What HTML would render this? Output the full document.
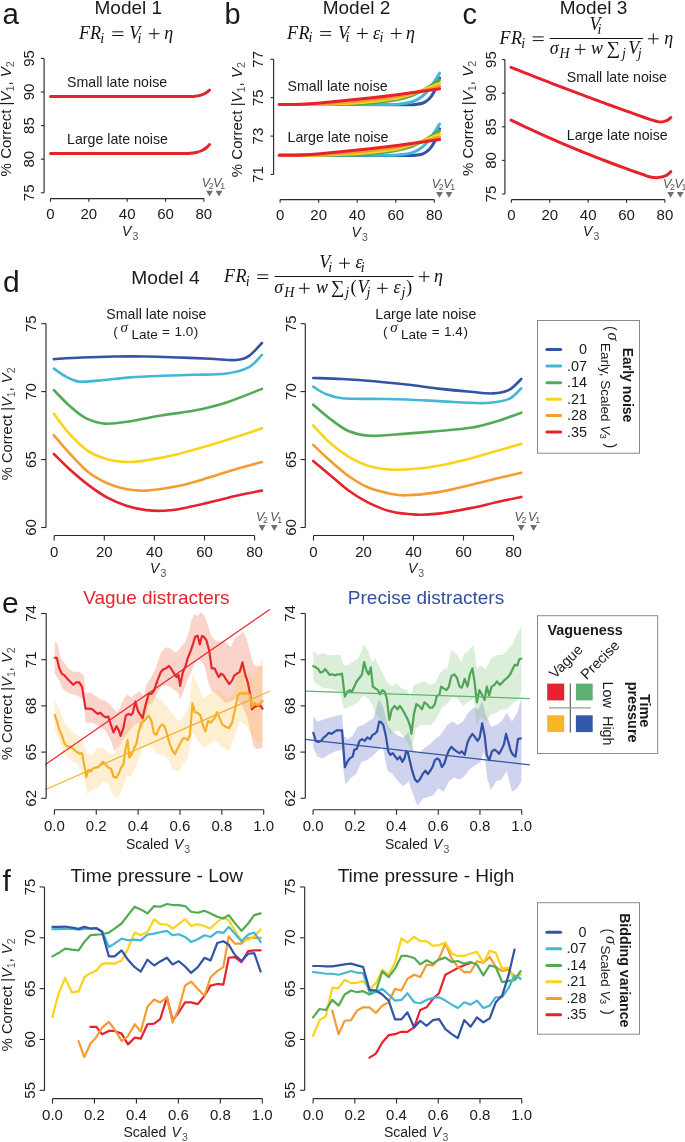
<!DOCTYPE html>
<html><head><meta charset="utf-8"><style>
html,body{margin:0;padding:0;background:#fff;overflow:hidden;}
svg{display:block;will-change:transform;}
</style></head><body>
<svg width="685" height="1142" viewBox="0 0 685 1142">
<rect width="685" height="1142" fill="#fff"/>
<text x="2.60" y="24.30" font-family="'Liberation Sans', sans-serif" font-size="29.5" text-anchor="start" fill="#1a1a1a" font-weight="normal" font-style="normal" >a</text>
<text x="128.30" y="13.70" font-family="'Liberation Sans', sans-serif" font-size="19" text-anchor="middle" fill="#1a1a1a" font-weight="normal" font-style="normal" >Model 1</text>
<line x1="44.10" y1="58.40" x2="44.10" y2="192.80" stroke="#2a2a2a" stroke-width="1.15" />
<line x1="40.90" y1="58.40" x2="44.10" y2="58.40" stroke="#2a2a2a" stroke-width="1.1" />
<text x="0.00" y="0.00" font-family="'Liberation Sans', sans-serif" font-size="15" text-anchor="middle" fill="#1a1a1a" font-weight="normal" font-style="normal" transform="translate(34.30,58.40) rotate(-90)" >95</text>
<line x1="40.90" y1="92.00" x2="44.10" y2="92.00" stroke="#2a2a2a" stroke-width="1.1" />
<text x="0.00" y="0.00" font-family="'Liberation Sans', sans-serif" font-size="15" text-anchor="middle" fill="#1a1a1a" font-weight="normal" font-style="normal" transform="translate(34.30,92.00) rotate(-90)" >90</text>
<line x1="40.90" y1="125.60" x2="44.10" y2="125.60" stroke="#2a2a2a" stroke-width="1.1" />
<text x="0.00" y="0.00" font-family="'Liberation Sans', sans-serif" font-size="15" text-anchor="middle" fill="#1a1a1a" font-weight="normal" font-style="normal" transform="translate(34.30,125.60) rotate(-90)" >85</text>
<line x1="40.90" y1="159.20" x2="44.10" y2="159.20" stroke="#2a2a2a" stroke-width="1.1" />
<text x="0.00" y="0.00" font-family="'Liberation Sans', sans-serif" font-size="15" text-anchor="middle" fill="#1a1a1a" font-weight="normal" font-style="normal" transform="translate(34.30,159.20) rotate(-90)" >80</text>
<line x1="40.90" y1="192.80" x2="44.10" y2="192.80" stroke="#2a2a2a" stroke-width="1.1" />
<text x="0.00" y="0.00" font-family="'Liberation Sans', sans-serif" font-size="15" text-anchor="middle" fill="#1a1a1a" font-weight="normal" font-style="normal" transform="translate(34.30,192.80) rotate(-90)" >75</text>
<line x1="50.50" y1="198.60" x2="203.86" y2="198.60" stroke="#2a2a2a" stroke-width="1.1" />
<line x1="50.50" y1="198.60" x2="50.50" y2="201.80" stroke="#2a2a2a" stroke-width="1.1" />
<text x="50.50" y="218.80" font-family="'Liberation Sans', sans-serif" font-size="15" text-anchor="middle" fill="#1a1a1a" font-weight="normal" font-style="normal" >0</text>
<line x1="88.84" y1="198.60" x2="88.84" y2="201.80" stroke="#2a2a2a" stroke-width="1.1" />
<text x="88.84" y="218.80" font-family="'Liberation Sans', sans-serif" font-size="15" text-anchor="middle" fill="#1a1a1a" font-weight="normal" font-style="normal" >20</text>
<line x1="127.18" y1="198.60" x2="127.18" y2="201.80" stroke="#2a2a2a" stroke-width="1.1" />
<text x="127.18" y="218.80" font-family="'Liberation Sans', sans-serif" font-size="15" text-anchor="middle" fill="#1a1a1a" font-weight="normal" font-style="normal" >40</text>
<line x1="165.52" y1="198.60" x2="165.52" y2="201.80" stroke="#2a2a2a" stroke-width="1.1" />
<text x="165.52" y="218.80" font-family="'Liberation Sans', sans-serif" font-size="15" text-anchor="middle" fill="#1a1a1a" font-weight="normal" font-style="normal" >60</text>
<line x1="203.86" y1="198.60" x2="203.86" y2="201.80" stroke="#2a2a2a" stroke-width="1.1" />
<text x="203.86" y="218.80" font-family="'Liberation Sans', sans-serif" font-size="15" text-anchor="middle" fill="#1a1a1a" font-weight="normal" font-style="normal" >80</text>
<text x="122.10" y="235.70" font-family="'Liberation Sans', sans-serif" font-size="14" font-style="italic" fill="#1a1a1a">V</text>
<text x="132.50" y="239.70" font-family="'Liberation Sans', sans-serif" font-size="10.5" fill="#555">3</text>
<path d="M206.10,190.70 L212.90,190.70 L209.50,196.50 Z" fill="#707070"/>
<text x="201.80" y="186.70" font-family="'Liberation Sans', sans-serif" font-size="12.5" fill="#555" font-style="italic">V<tspan font-style="normal" font-size="8.8" dx="-1.3" dy="1.9">2</tspan></text>
<path d="M215.60,190.70 L222.40,190.70 L219.00,196.50 Z" fill="#707070"/>
<text x="213.20" y="186.70" font-family="'Liberation Sans', sans-serif" font-size="12.5" fill="#555" font-style="italic">V<tspan font-style="normal" font-size="8.8" dx="-1.3" dy="1.9">1</tspan></text>
<text x="0.00" y="0.00" font-family="'Liberation Sans', sans-serif" font-size="15" text-anchor="middle" fill="#1a1a1a" font-weight="normal" font-style="normal" transform="translate(10.50,118.80) rotate(-90)" >% Correct |<tspan font-style="italic">V</tspan><tspan font-size="10.8" dy="3" fill="#555">1</tspan><tspan dy="-3">, </tspan><tspan font-style="italic">V</tspan><tspan font-size="10.8" dy="3" fill="#555">2</tspan></text>
<text x="67.00" y="86.50" font-family="'Liberation Sans', sans-serif" font-size="14.2" text-anchor="start" fill="#1a1a1a" font-weight="normal" font-style="normal" >Small late noise</text>
<text x="67.00" y="143.70" font-family="'Liberation Sans', sans-serif" font-size="14.2" text-anchor="start" fill="#1a1a1a" font-weight="normal" font-style="normal" >Large late noise</text>
<path d="M50.50,96.60 C62.08,96.60 97.58,96.60 120.00,96.60 C142.42,96.60 172.83,96.63 185.00,96.60 C197.17,96.57 190.67,96.57 193.00,96.40 C195.33,96.23 197.33,95.95 199.00,95.60 C200.67,95.25 201.75,94.82 203.00,94.30 C204.25,93.78 205.42,93.18 206.50,92.50 C207.58,91.82 209.00,90.58 209.50,90.20" stroke="#e6222d" stroke-width="3.0" fill="none" stroke-linecap="round" stroke-linejoin="round"/>
<path d="M50.50,153.60 C62.08,153.60 98.42,153.60 120.00,153.60 C141.58,153.60 168.33,153.65 180.00,153.60 C191.67,153.55 187.17,153.53 190.00,153.30 C192.83,153.07 195.00,152.67 197.00,152.20 C199.00,151.73 200.50,151.20 202.00,150.50 C203.50,149.80 204.75,148.98 206.00,148.00 C207.25,147.02 208.92,145.17 209.50,144.60" stroke="#e6222d" stroke-width="3.0" fill="none" stroke-linecap="round" stroke-linejoin="round"/>
<text x="224.50" y="24.30" font-family="'Liberation Sans', sans-serif" font-size="29" text-anchor="start" fill="#1a1a1a" font-weight="normal" font-style="normal" >b</text>
<text x="356.50" y="14.00" font-family="'Liberation Sans', sans-serif" font-size="19" text-anchor="middle" fill="#1a1a1a" font-weight="normal" font-style="normal" >Model 2</text>
<line x1="273.60" y1="59.30" x2="273.60" y2="174.50" stroke="#2a2a2a" stroke-width="1.15" />
<line x1="270.50" y1="59.30" x2="273.60" y2="59.30" stroke="#2a2a2a" stroke-width="1.1" />
<text x="0.00" y="0.00" font-family="'Liberation Sans', sans-serif" font-size="15" text-anchor="middle" fill="#1a1a1a" font-weight="normal" font-style="normal" transform="translate(263.00,59.30) rotate(-90)" >77</text>
<line x1="270.50" y1="97.70" x2="273.60" y2="97.70" stroke="#2a2a2a" stroke-width="1.1" />
<text x="0.00" y="0.00" font-family="'Liberation Sans', sans-serif" font-size="15" text-anchor="middle" fill="#1a1a1a" font-weight="normal" font-style="normal" transform="translate(263.00,97.70) rotate(-90)" >75</text>
<line x1="270.50" y1="136.10" x2="273.60" y2="136.10" stroke="#2a2a2a" stroke-width="1.1" />
<text x="0.00" y="0.00" font-family="'Liberation Sans', sans-serif" font-size="15" text-anchor="middle" fill="#1a1a1a" font-weight="normal" font-style="normal" transform="translate(263.00,136.10) rotate(-90)" >73</text>
<line x1="270.50" y1="174.50" x2="273.60" y2="174.50" stroke="#2a2a2a" stroke-width="1.1" />
<text x="0.00" y="0.00" font-family="'Liberation Sans', sans-serif" font-size="15" text-anchor="middle" fill="#1a1a1a" font-weight="normal" font-style="normal" transform="translate(263.00,174.50) rotate(-90)" >71</text>
<line x1="280.10" y1="199.60" x2="434.30" y2="199.60" stroke="#2a2a2a" stroke-width="1.1" />
<line x1="280.10" y1="199.60" x2="280.10" y2="202.80" stroke="#2a2a2a" stroke-width="1.1" />
<text x="280.10" y="219.80" font-family="'Liberation Sans', sans-serif" font-size="15" text-anchor="middle" fill="#1a1a1a" font-weight="normal" font-style="normal" >0</text>
<line x1="318.65" y1="199.60" x2="318.65" y2="202.80" stroke="#2a2a2a" stroke-width="1.1" />
<text x="318.65" y="219.80" font-family="'Liberation Sans', sans-serif" font-size="15" text-anchor="middle" fill="#1a1a1a" font-weight="normal" font-style="normal" >20</text>
<line x1="357.20" y1="199.60" x2="357.20" y2="202.80" stroke="#2a2a2a" stroke-width="1.1" />
<text x="357.20" y="219.80" font-family="'Liberation Sans', sans-serif" font-size="15" text-anchor="middle" fill="#1a1a1a" font-weight="normal" font-style="normal" >40</text>
<line x1="395.75" y1="199.60" x2="395.75" y2="202.80" stroke="#2a2a2a" stroke-width="1.1" />
<text x="395.75" y="219.80" font-family="'Liberation Sans', sans-serif" font-size="15" text-anchor="middle" fill="#1a1a1a" font-weight="normal" font-style="normal" >60</text>
<line x1="434.30" y1="199.60" x2="434.30" y2="202.80" stroke="#2a2a2a" stroke-width="1.1" />
<text x="434.30" y="219.80" font-family="'Liberation Sans', sans-serif" font-size="15" text-anchor="middle" fill="#1a1a1a" font-weight="normal" font-style="normal" >80</text>
<text x="351.60" y="236.50" font-family="'Liberation Sans', sans-serif" font-size="14" font-style="italic" fill="#1a1a1a">V</text>
<text x="362.00" y="240.50" font-family="'Liberation Sans', sans-serif" font-size="10.5" fill="#555">3</text>
<path d="M436.10,191.90 L442.90,191.90 L439.50,197.70 Z" fill="#707070"/>
<text x="431.80" y="187.90" font-family="'Liberation Sans', sans-serif" font-size="12.5" fill="#555" font-style="italic">V<tspan font-style="normal" font-size="8.8" dx="-1.3" dy="1.9">2</tspan></text>
<path d="M445.60,191.90 L452.40,191.90 L449.00,197.70 Z" fill="#707070"/>
<text x="443.20" y="187.90" font-family="'Liberation Sans', sans-serif" font-size="12.5" fill="#555" font-style="italic">V<tspan font-style="normal" font-size="8.8" dx="-1.3" dy="1.9">1</tspan></text>
<text x="0.00" y="0.00" font-family="'Liberation Sans', sans-serif" font-size="15" text-anchor="middle" fill="#1a1a1a" font-weight="normal" font-style="normal" transform="translate(241.80,119.60) rotate(-90)" >% Correct |<tspan font-style="italic">V</tspan><tspan font-size="10.8" dy="3" fill="#555">1</tspan><tspan dy="-3">, </tspan><tspan font-style="italic">V</tspan><tspan font-size="10.8" dy="3" fill="#555">2</tspan></text>
<text x="287.50" y="90.80" font-family="'Liberation Sans', sans-serif" font-size="14.2" text-anchor="start" fill="#1a1a1a" font-weight="normal" font-style="normal" >Small late noise</text>
<text x="287.50" y="142.10" font-family="'Liberation Sans', sans-serif" font-size="14.2" text-anchor="start" fill="#1a1a1a" font-weight="normal" font-style="normal" >Large late noise</text>
<path d="M279.30,104.50 C299.42,104.53 377.38,104.70 400.00,104.70 C422.62,104.70 411.17,104.78 415.00,104.50 C418.83,104.22 420.67,103.92 423.00,103.00 C425.33,102.08 427.17,100.83 429.00,99.00 C430.83,97.17 432.23,95.50 434.00,92.00 C435.77,88.50 438.67,80.33 439.60,78.00" stroke="#3353a4" stroke-width="3.0" fill="none" stroke-linecap="round" stroke-linejoin="round"/>
<path d="M279.30,104.50 C296.08,104.50 359.88,104.58 380.00,104.50 C400.12,104.42 394.50,104.50 400.00,104.00 C405.50,103.50 409.33,102.75 413.00,101.50 C416.67,100.25 419.17,98.75 422.00,96.50 C424.83,94.25 427.07,91.88 430.00,88.00 C432.93,84.12 438.00,75.67 439.60,73.20" stroke="#44b7d5" stroke-width="3.0" fill="none" stroke-linecap="round" stroke-linejoin="round"/>
<path d="M279.30,104.50 C289.42,104.48 325.72,104.58 340.00,104.40 C354.28,104.22 355.83,104.13 365.00,103.40 C374.17,102.67 387.17,101.32 395.00,100.00 C402.83,98.68 406.83,97.42 412.00,95.50 C417.17,93.58 421.40,91.12 426.00,88.50 C430.60,85.88 437.33,81.25 439.60,79.80" stroke="#52aa54" stroke-width="3.0" fill="none" stroke-linecap="round" stroke-linejoin="round"/>
<path d="M279.30,104.50 C286.08,104.48 309.05,104.57 320.00,104.40 C330.95,104.23 335.83,104.03 345.00,103.50 C354.17,102.97 365.83,102.20 375.00,101.20 C384.17,100.20 392.27,99.28 400.00,97.50 C407.73,95.72 414.80,92.87 421.40,90.50 C428.00,88.13 436.57,84.50 439.60,83.30" stroke="#fbd31a" stroke-width="3.0" fill="none" stroke-linecap="round" stroke-linejoin="round"/>
<path d="M279.30,104.50 C284.42,104.47 301.55,104.48 310.00,104.30 C318.45,104.12 321.67,103.95 330.00,103.40 C338.33,102.85 349.17,102.10 360.00,101.00 C370.83,99.90 384.77,98.47 395.00,96.80 C405.23,95.13 413.97,92.75 421.40,91.00 C428.83,89.25 436.57,87.08 439.60,86.30" stroke="#f49c32" stroke-width="3.0" fill="none" stroke-linecap="round" stroke-linejoin="round"/>
<path d="M279.30,104.50 C281.92,104.48 289.88,104.53 295.00,104.40 C300.12,104.27 305.00,104.02 310.00,103.70 C315.00,103.38 316.67,103.28 325.00,102.50 C333.33,101.72 348.33,100.25 360.00,99.00 C371.67,97.75 384.77,96.27 395.00,95.00 C405.23,93.73 413.97,92.43 421.40,91.40 C428.83,90.37 436.57,89.23 439.60,88.80" stroke="#e6222d" stroke-width="3.0" fill="none" stroke-linecap="round" stroke-linejoin="round"/>
<path d="M279.30,155.30 C299.42,155.33 377.38,155.50 400.00,155.50 C422.62,155.50 411.17,155.58 415.00,155.30 C418.83,155.02 420.67,154.72 423.00,153.80 C425.33,152.88 427.17,151.63 429.00,149.80 C430.83,147.97 432.23,146.30 434.00,142.80 C435.77,139.30 438.67,131.13 439.60,128.80" stroke="#3353a4" stroke-width="3.0" fill="none" stroke-linecap="round" stroke-linejoin="round"/>
<path d="M279.30,155.30 C296.08,155.30 359.88,155.38 380.00,155.30 C400.12,155.22 394.50,155.30 400.00,154.80 C405.50,154.30 409.33,153.55 413.00,152.30 C416.67,151.05 419.17,149.55 422.00,147.30 C424.83,145.05 427.07,142.68 430.00,138.80 C432.93,134.92 438.00,126.47 439.60,124.00" stroke="#44b7d5" stroke-width="3.0" fill="none" stroke-linecap="round" stroke-linejoin="round"/>
<path d="M279.30,155.30 C289.42,155.28 325.72,155.38 340.00,155.20 C354.28,155.02 355.83,154.93 365.00,154.20 C374.17,153.47 387.17,152.12 395.00,150.80 C402.83,149.48 406.83,148.22 412.00,146.30 C417.17,144.38 421.40,141.92 426.00,139.30 C430.60,136.68 437.33,132.05 439.60,130.60" stroke="#52aa54" stroke-width="3.0" fill="none" stroke-linecap="round" stroke-linejoin="round"/>
<path d="M279.30,155.30 C286.08,155.28 309.05,155.37 320.00,155.20 C330.95,155.03 335.83,154.83 345.00,154.30 C354.17,153.77 365.83,153.00 375.00,152.00 C384.17,151.00 392.27,150.08 400.00,148.30 C407.73,146.52 414.80,143.67 421.40,141.30 C428.00,138.93 436.57,135.30 439.60,134.10" stroke="#fbd31a" stroke-width="3.0" fill="none" stroke-linecap="round" stroke-linejoin="round"/>
<path d="M279.30,155.30 C284.42,155.27 301.55,155.28 310.00,155.10 C318.45,154.92 321.67,154.75 330.00,154.20 C338.33,153.65 349.17,152.90 360.00,151.80 C370.83,150.70 384.77,149.27 395.00,147.60 C405.23,145.93 413.97,143.55 421.40,141.80 C428.83,140.05 436.57,137.88 439.60,137.10" stroke="#f49c32" stroke-width="3.0" fill="none" stroke-linecap="round" stroke-linejoin="round"/>
<path d="M279.30,155.30 C281.92,155.28 289.88,155.33 295.00,155.20 C300.12,155.07 305.00,154.82 310.00,154.50 C315.00,154.18 316.67,154.08 325.00,153.30 C333.33,152.52 348.33,151.05 360.00,149.80 C371.67,148.55 384.77,147.07 395.00,145.80 C405.23,144.53 413.97,143.23 421.40,142.20 C428.83,141.17 436.57,140.03 439.60,139.60" stroke="#e6222d" stroke-width="3.0" fill="none" stroke-linecap="round" stroke-linejoin="round"/>
<text x="462.50" y="23.50" font-family="'Liberation Sans', sans-serif" font-size="29" text-anchor="start" fill="#1a1a1a" font-weight="normal" font-style="normal" >c</text>
<text x="593.50" y="13.70" font-family="'Liberation Sans', sans-serif" font-size="19" text-anchor="middle" fill="#1a1a1a" font-weight="normal" font-style="normal" >Model 3</text>
<line x1="504.90" y1="59.60" x2="504.90" y2="194.00" stroke="#2a2a2a" stroke-width="1.15" />
<line x1="502.00" y1="59.60" x2="504.90" y2="59.60" stroke="#2a2a2a" stroke-width="1.1" />
<text x="0.00" y="0.00" font-family="'Liberation Sans', sans-serif" font-size="15" text-anchor="middle" fill="#1a1a1a" font-weight="normal" font-style="normal" transform="translate(496.20,59.60) rotate(-90)" >95</text>
<line x1="502.00" y1="93.20" x2="504.90" y2="93.20" stroke="#2a2a2a" stroke-width="1.1" />
<text x="0.00" y="0.00" font-family="'Liberation Sans', sans-serif" font-size="15" text-anchor="middle" fill="#1a1a1a" font-weight="normal" font-style="normal" transform="translate(496.20,93.20) rotate(-90)" >90</text>
<line x1="502.00" y1="126.80" x2="504.90" y2="126.80" stroke="#2a2a2a" stroke-width="1.1" />
<text x="0.00" y="0.00" font-family="'Liberation Sans', sans-serif" font-size="15" text-anchor="middle" fill="#1a1a1a" font-weight="normal" font-style="normal" transform="translate(496.20,126.80) rotate(-90)" >85</text>
<line x1="502.00" y1="160.40" x2="504.90" y2="160.40" stroke="#2a2a2a" stroke-width="1.1" />
<text x="0.00" y="0.00" font-family="'Liberation Sans', sans-serif" font-size="15" text-anchor="middle" fill="#1a1a1a" font-weight="normal" font-style="normal" transform="translate(496.20,160.40) rotate(-90)" >80</text>
<line x1="502.00" y1="194.00" x2="504.90" y2="194.00" stroke="#2a2a2a" stroke-width="1.1" />
<text x="0.00" y="0.00" font-family="'Liberation Sans', sans-serif" font-size="15" text-anchor="middle" fill="#1a1a1a" font-weight="normal" font-style="normal" transform="translate(496.20,194.00) rotate(-90)" >75</text>
<line x1="511.40" y1="199.60" x2="664.92" y2="199.60" stroke="#2a2a2a" stroke-width="1.1" />
<line x1="511.40" y1="199.60" x2="511.40" y2="202.80" stroke="#2a2a2a" stroke-width="1.1" />
<text x="511.40" y="220.00" font-family="'Liberation Sans', sans-serif" font-size="15" text-anchor="middle" fill="#1a1a1a" font-weight="normal" font-style="normal" >0</text>
<line x1="549.78" y1="199.60" x2="549.78" y2="202.80" stroke="#2a2a2a" stroke-width="1.1" />
<text x="549.78" y="220.00" font-family="'Liberation Sans', sans-serif" font-size="15" text-anchor="middle" fill="#1a1a1a" font-weight="normal" font-style="normal" >20</text>
<line x1="588.16" y1="199.60" x2="588.16" y2="202.80" stroke="#2a2a2a" stroke-width="1.1" />
<text x="588.16" y="220.00" font-family="'Liberation Sans', sans-serif" font-size="15" text-anchor="middle" fill="#1a1a1a" font-weight="normal" font-style="normal" >40</text>
<line x1="626.54" y1="199.60" x2="626.54" y2="202.80" stroke="#2a2a2a" stroke-width="1.1" />
<text x="626.54" y="220.00" font-family="'Liberation Sans', sans-serif" font-size="15" text-anchor="middle" fill="#1a1a1a" font-weight="normal" font-style="normal" >60</text>
<line x1="664.92" y1="199.60" x2="664.92" y2="202.80" stroke="#2a2a2a" stroke-width="1.1" />
<text x="664.92" y="220.00" font-family="'Liberation Sans', sans-serif" font-size="15" text-anchor="middle" fill="#1a1a1a" font-weight="normal" font-style="normal" >80</text>
<text x="583.00" y="235.70" font-family="'Liberation Sans', sans-serif" font-size="14" font-style="italic" fill="#1a1a1a">V</text>
<text x="593.40" y="239.70" font-family="'Liberation Sans', sans-serif" font-size="10.5" fill="#555">3</text>
<path d="M667.20,192.00 L674.00,192.00 L670.60,197.80 Z" fill="#707070"/>
<text x="662.90" y="188.00" font-family="'Liberation Sans', sans-serif" font-size="12.5" fill="#555" font-style="italic">V<tspan font-style="normal" font-size="8.8" dx="-1.3" dy="1.9">2</tspan></text>
<path d="M676.80,192.00 L683.60,192.00 L680.20,197.80 Z" fill="#707070"/>
<text x="674.40" y="188.00" font-family="'Liberation Sans', sans-serif" font-size="12.5" fill="#555" font-style="italic">V<tspan font-style="normal" font-size="8.8" dx="-1.3" dy="1.9">1</tspan></text>
<text x="0.00" y="0.00" font-family="'Liberation Sans', sans-serif" font-size="15" text-anchor="middle" fill="#1a1a1a" font-weight="normal" font-style="normal" transform="translate(472.50,118.40) rotate(-90)" >% Correct |<tspan font-style="italic">V</tspan><tspan font-size="10.8" dy="3" fill="#555">1</tspan><tspan dy="-3">, </tspan><tspan font-style="italic">V</tspan><tspan font-size="10.8" dy="3" fill="#555">2</tspan></text>
<text x="566.80" y="82.40" font-family="'Liberation Sans', sans-serif" font-size="14.2" text-anchor="start" fill="#1a1a1a" font-weight="normal" font-style="normal" >Small late noise</text>
<text x="566.80" y="140.00" font-family="'Liberation Sans', sans-serif" font-size="14.2" text-anchor="start" fill="#1a1a1a" font-weight="normal" font-style="normal" >Large late noise</text>
<path d="M511.00,67.30 C512.00,67.70 515.00,68.90 517.00,69.69 C519.00,70.49 521.00,71.28 523.00,72.07 C525.00,72.86 527.00,73.65 529.00,74.44 C531.00,75.23 533.00,76.01 535.00,76.80 C537.00,77.58 539.00,78.36 541.00,79.14 C543.00,79.92 545.00,80.69 547.00,81.47 C549.00,82.24 551.00,83.01 553.00,83.78 C555.00,84.55 557.00,85.32 559.00,86.09 C561.00,86.85 563.00,87.62 565.00,88.38 C567.00,89.14 569.00,89.90 571.00,90.65 C573.00,91.41 575.00,92.17 577.00,92.92 C579.00,93.67 581.00,94.42 583.00,95.17 C585.00,95.92 587.00,96.66 589.00,97.41 C591.00,98.15 593.00,98.89 595.00,99.63 C597.00,100.37 599.00,101.11 601.00,101.85 C603.00,102.58 605.00,103.31 607.00,104.04 C609.00,104.78 611.00,105.50 613.00,106.23 C615.00,106.96 617.00,107.68 619.00,108.40 C621.00,109.13 623.00,109.85 625.00,110.57 C627.00,111.28 629.00,112.00 631.00,112.71 C633.00,113.43 635.00,114.14 637.00,114.85 C639.00,115.56 641.00,116.26 643.00,116.97 C645.00,117.67 646.92,118.41 649.00,119.08 C651.08,119.75 653.55,120.50 655.50,121.00 C657.45,121.50 658.85,122.15 660.70,122.10 C662.55,122.05 664.90,121.45 666.60,120.70 C668.30,119.95 670.18,118.12 670.90,117.60" stroke="#e6222d" stroke-width="3.0" fill="none" stroke-linecap="round"/>
<path d="M511.00,120.10 C512.00,120.58 515.00,122.02 517.00,122.97 C519.00,123.92 521.00,124.87 523.00,125.80 C525.00,126.74 527.00,127.67 529.00,128.60 C531.00,129.52 533.00,130.44 535.00,131.36 C537.00,132.27 539.00,133.18 541.00,134.08 C543.00,134.98 545.00,135.87 547.00,136.76 C549.00,137.65 551.00,138.53 553.00,139.40 C555.00,140.28 557.00,141.15 559.00,142.01 C561.00,142.87 563.00,143.73 565.00,144.58 C567.00,145.43 569.00,146.27 571.00,147.11 C573.00,147.95 575.00,148.78 577.00,149.60 C579.00,150.43 581.00,151.24 583.00,152.06 C585.00,152.87 587.00,153.68 589.00,154.48 C591.00,155.28 593.00,156.07 595.00,156.86 C597.00,157.64 599.00,158.42 601.00,159.20 C603.00,159.97 605.00,160.74 607.00,161.50 C609.00,162.27 611.00,163.02 613.00,163.77 C615.00,164.52 617.00,165.26 619.00,166.00 C621.00,166.74 623.00,167.47 625.00,168.19 C627.00,168.92 629.00,169.64 631.00,170.35 C633.00,171.06 635.00,171.76 637.00,172.46 C639.00,173.16 640.80,173.79 643.00,174.54 C645.20,175.30 647.68,176.49 650.20,177.00 C652.72,177.51 655.47,177.82 658.10,177.60 C660.73,177.38 663.87,176.68 666.00,175.70 C668.13,174.72 670.08,172.37 670.90,171.70" stroke="#e6222d" stroke-width="3.0" fill="none" stroke-linecap="round"/>
<text x="79.10" y="38.70" font-family="'Liberation Serif', serif" font-size="18.0" font-style="italic" fill="#111">F</text>
<text x="90.00" y="38.70" font-family="'Liberation Serif', serif" font-size="18.0" font-style="italic" fill="#111">R</text>
<text x="100.32" y="42.60" font-family="'Liberation Serif', serif" font-size="14.0" font-style="italic" fill="#111">i</text>
<path d="M112.30,31.80 h11.0 M112.30,35.50 h11.0" stroke="#111" stroke-width="1.0" fill="none"/>
<text x="129.26" y="38.70" font-family="'Liberation Serif', serif" font-size="18.0" font-style="italic" fill="#111">V</text>
<text x="137.52" y="42.60" font-family="'Liberation Serif', serif" font-size="14.0" font-style="italic" fill="#111">i</text>
<path d="M148.70,33.70 h10.8 M154.10,28.40 v10.6" stroke="#111" stroke-width="1.0" fill="none"/>
<text x="164.16" y="38.70" font-family="'Liberation Serif', serif" font-size="18.0" font-style="italic" fill="#111">η</text>
<text x="287.00" y="38.50" font-family="'Liberation Serif', serif" font-size="18.0" font-style="italic" fill="#111">F</text>
<text x="298.40" y="38.50" font-family="'Liberation Serif', serif" font-size="18.0" font-style="italic" fill="#111">R</text>
<text x="308.52" y="42.40" font-family="'Liberation Serif', serif" font-size="14.0" font-style="italic" fill="#111">i</text>
<path d="M320.20,31.60 h11.0 M320.20,35.30 h11.0" stroke="#111" stroke-width="1.0" fill="none"/>
<text x="338.06" y="38.50" font-family="'Liberation Serif', serif" font-size="18.0" font-style="italic" fill="#111">V</text>
<text x="345.62" y="42.40" font-family="'Liberation Serif', serif" font-size="14.0" font-style="italic" fill="#111">i</text>
<path d="M356.90,33.50 h10.8 M362.30,28.20 v10.6" stroke="#111" stroke-width="1.0" fill="none"/>
<text x="372.91" y="38.50" font-family="'Liberation Serif', serif" font-size="18.0" font-style="italic" fill="#111">ε</text>
<text x="379.52" y="42.40" font-family="'Liberation Serif', serif" font-size="14.0" font-style="italic" fill="#111">i</text>
<path d="M390.80,33.50 h10.8 M396.20,28.20 v10.6" stroke="#111" stroke-width="1.0" fill="none"/>
<text x="405.96" y="38.50" font-family="'Liberation Serif', serif" font-size="18.0" font-style="italic" fill="#111">η</text>
<text x="499.50" y="43.80" font-family="'Liberation Serif', serif" font-size="18.0" font-style="italic" fill="#111">F</text>
<text x="510.90" y="43.80" font-family="'Liberation Serif', serif" font-size="18.0" font-style="italic" fill="#111">R</text>
<text x="521.32" y="47.70" font-family="'Liberation Serif', serif" font-size="14.0" font-style="italic" fill="#111">i</text>
<path d="M532.70,36.90 h11.0 M532.70,40.60 h11.0" stroke="#111" stroke-width="1.0" fill="none"/>
<path d="M647.90,38.80 h10.8 M653.30,33.50 v10.6" stroke="#111" stroke-width="1.0" fill="none"/>
<text x="664.16" y="43.80" font-family="'Liberation Serif', serif" font-size="18.0" font-style="italic" fill="#111">η</text>
<text x="589.56" y="30.20" font-family="'Liberation Serif', serif" font-size="18.0" font-style="italic" fill="#111">V</text>
<text x="597.62" y="34.10" font-family="'Liberation Serif', serif" font-size="14.0" font-style="italic" fill="#111">i</text>
<line x1="549.80" y1="38.50" x2="643.20" y2="38.50" stroke="#111" stroke-width="1.1" />
<text x="549.76" y="54.40" font-family="'Liberation Serif', serif" font-size="18.0" font-style="italic" fill="#111">σ</text>
<text x="559.55" y="58.30" font-family="'Liberation Serif', serif" font-size="14.0" font-style="italic" fill="#111">H</text>
<path d="M574.80,49.40 h10.8 M580.20,44.10 v10.6" stroke="#111" stroke-width="1.0" fill="none"/>
<text x="590.97" y="54.40" font-family="'Liberation Serif', serif" font-size="18.0" font-style="italic" fill="#111">w</text>
<text x="606.76" y="54.40" font-family="'Liberation Serif', serif" font-size="18.8" font-style="normal" fill="#111">∑</text>
<text x="621.90" y="58.30" font-family="'Liberation Serif', serif" font-size="14.0" font-style="italic" fill="#111">j</text>
<text x="628.26" y="54.40" font-family="'Liberation Serif', serif" font-size="18.0" font-style="italic" fill="#111">V</text>
<text x="637.70" y="58.30" font-family="'Liberation Serif', serif" font-size="14.0" font-style="italic" fill="#111">j</text>
<text x="224.10" y="281.70" font-family="'Liberation Serif', serif" font-size="18.0" font-style="italic" fill="#111">F</text>
<text x="235.40" y="281.70" font-family="'Liberation Serif', serif" font-size="18.0" font-style="italic" fill="#111">R</text>
<text x="245.72" y="285.60" font-family="'Liberation Serif', serif" font-size="14.0" font-style="italic" fill="#111">i</text>
<path d="M257.30,274.80 h11.0 M257.30,278.50 h11.0" stroke="#111" stroke-width="1.0" fill="none"/>
<path d="M418.70,276.70 h10.8 M424.10,271.40 v10.6" stroke="#111" stroke-width="1.0" fill="none"/>
<text x="434.06" y="281.70" font-family="'Liberation Serif', serif" font-size="18.0" font-style="italic" fill="#111">η</text>
<text x="319.36" y="268.20" font-family="'Liberation Serif', serif" font-size="18.0" font-style="italic" fill="#111">V</text>
<text x="328.32" y="272.10" font-family="'Liberation Serif', serif" font-size="14.0" font-style="italic" fill="#111">i</text>
<path d="M339.10,263.20 h10.8 M344.50,257.90 v10.6" stroke="#111" stroke-width="1.0" fill="none"/>
<text x="355.41" y="268.20" font-family="'Liberation Serif', serif" font-size="18.0" font-style="italic" fill="#111">ε</text>
<text x="360.72" y="272.10" font-family="'Liberation Serif', serif" font-size="14.0" font-style="italic" fill="#111">i</text>
<line x1="274.60" y1="276.50" x2="413.60" y2="276.50" stroke="#111" stroke-width="1.1" />
<text x="274.26" y="293.30" font-family="'Liberation Serif', serif" font-size="18.0" font-style="italic" fill="#111">σ</text>
<text x="284.15" y="297.20" font-family="'Liberation Serif', serif" font-size="14.0" font-style="italic" fill="#111">H</text>
<path d="M298.90,288.30 h10.8 M304.30,283.00 v10.6" stroke="#111" stroke-width="1.0" fill="none"/>
<text x="315.97" y="293.30" font-family="'Liberation Serif', serif" font-size="18.0" font-style="italic" fill="#111">w</text>
<text x="331.06" y="293.30" font-family="'Liberation Serif', serif" font-size="18.8" font-style="normal" fill="#111">∑</text>
<text x="345.20" y="297.20" font-family="'Liberation Serif', serif" font-size="14.0" font-style="italic" fill="#111">j</text>
<text x="350.39" y="293.30" font-family="'Liberation Serif', serif" font-size="18.5" font-style="normal" fill="#111">(</text>
<text x="357.56" y="293.30" font-family="'Liberation Serif', serif" font-size="18.0" font-style="italic" fill="#111">V</text>
<text x="366.50" y="297.20" font-family="'Liberation Serif', serif" font-size="14.0" font-style="italic" fill="#111">j</text>
<path d="M376.90,288.30 h10.8 M382.30,283.00 v10.6" stroke="#111" stroke-width="1.0" fill="none"/>
<text x="393.61" y="293.30" font-family="'Liberation Serif', serif" font-size="18.0" font-style="italic" fill="#111">ε</text>
<text x="401.60" y="297.20" font-family="'Liberation Serif', serif" font-size="14.0" font-style="italic" fill="#111">j</text>
<text x="406.10" y="293.30" font-family="'Liberation Serif', serif" font-size="18.5" font-style="normal" fill="#111">)</text>
<text x="3.00" y="292.00" font-family="'Liberation Sans', sans-serif" font-size="30" text-anchor="start" fill="#1a1a1a" font-weight="normal" font-style="normal" >d</text>
<text x="131.30" y="284.00" font-family="'Liberation Sans', sans-serif" font-size="19.2" text-anchor="start" fill="#1a1a1a" font-weight="normal" font-style="normal" >Model 4</text>
<line x1="46.00" y1="323.65" x2="46.00" y2="527.50" stroke="#2a2a2a" stroke-width="1.15" />
<line x1="41.20" y1="323.65" x2="46.00" y2="323.65" stroke="#2a2a2a" stroke-width="1.1" />
<text x="0.00" y="0.00" font-family="'Liberation Sans', sans-serif" font-size="15" text-anchor="middle" fill="#1a1a1a" font-weight="normal" font-style="normal" transform="translate(36.00,323.65) rotate(-90)" >75</text>
<line x1="41.20" y1="391.60" x2="46.00" y2="391.60" stroke="#2a2a2a" stroke-width="1.1" />
<text x="0.00" y="0.00" font-family="'Liberation Sans', sans-serif" font-size="15" text-anchor="middle" fill="#1a1a1a" font-weight="normal" font-style="normal" transform="translate(36.00,391.60) rotate(-90)" >70</text>
<line x1="41.20" y1="459.55" x2="46.00" y2="459.55" stroke="#2a2a2a" stroke-width="1.1" />
<text x="0.00" y="0.00" font-family="'Liberation Sans', sans-serif" font-size="15" text-anchor="middle" fill="#1a1a1a" font-weight="normal" font-style="normal" transform="translate(36.00,459.55) rotate(-90)" >65</text>
<line x1="41.20" y1="527.50" x2="46.00" y2="527.50" stroke="#2a2a2a" stroke-width="1.1" />
<text x="0.00" y="0.00" font-family="'Liberation Sans', sans-serif" font-size="15" text-anchor="middle" fill="#1a1a1a" font-weight="normal" font-style="normal" transform="translate(36.00,527.50) rotate(-90)" >60</text>
<line x1="54.20" y1="535.50" x2="254.60" y2="535.50" stroke="#2a2a2a" stroke-width="1.1" />
<line x1="54.20" y1="535.50" x2="54.20" y2="540.50" stroke="#2a2a2a" stroke-width="1.1" />
<text x="54.20" y="556.50" font-family="'Liberation Sans', sans-serif" font-size="15" text-anchor="middle" fill="#1a1a1a" font-weight="normal" font-style="normal" >0</text>
<line x1="104.30" y1="535.50" x2="104.30" y2="540.50" stroke="#2a2a2a" stroke-width="1.1" />
<text x="104.30" y="556.50" font-family="'Liberation Sans', sans-serif" font-size="15" text-anchor="middle" fill="#1a1a1a" font-weight="normal" font-style="normal" >20</text>
<line x1="154.40" y1="535.50" x2="154.40" y2="540.50" stroke="#2a2a2a" stroke-width="1.1" />
<text x="154.40" y="556.50" font-family="'Liberation Sans', sans-serif" font-size="15" text-anchor="middle" fill="#1a1a1a" font-weight="normal" font-style="normal" >40</text>
<line x1="204.50" y1="535.50" x2="204.50" y2="540.50" stroke="#2a2a2a" stroke-width="1.1" />
<text x="204.50" y="556.50" font-family="'Liberation Sans', sans-serif" font-size="15" text-anchor="middle" fill="#1a1a1a" font-weight="normal" font-style="normal" >60</text>
<line x1="254.60" y1="535.50" x2="254.60" y2="540.50" stroke="#2a2a2a" stroke-width="1.1" />
<text x="254.60" y="556.50" font-family="'Liberation Sans', sans-serif" font-size="15" text-anchor="middle" fill="#1a1a1a" font-weight="normal" font-style="normal" >80</text>
<text x="150.10" y="572.50" font-family="'Liberation Sans', sans-serif" font-size="14" font-style="italic" fill="#1a1a1a">V</text>
<text x="160.50" y="576.50" font-family="'Liberation Sans', sans-serif" font-size="10.5" fill="#555">3</text>
<path d="M258.70,525.10 L265.50,525.10 L262.10,530.90 Z" fill="#707070"/>
<text x="255.90" y="521.10" font-family="'Liberation Sans', sans-serif" font-size="12.5" fill="#555" font-style="italic">V<tspan font-style="normal" font-size="8.8" dx="-1.3" dy="1.9">2</tspan></text>
<path d="M270.90,525.10 L277.70,525.10 L274.30,530.90 Z" fill="#707070"/>
<text x="270.20" y="521.10" font-family="'Liberation Sans', sans-serif" font-size="12.5" fill="#555" font-style="italic">V<tspan font-style="normal" font-size="8.8" dx="-1.3" dy="1.9">1</tspan></text>
<text x="0.00" y="0.00" font-family="'Liberation Sans', sans-serif" font-size="14.7" text-anchor="middle" fill="#1a1a1a" font-weight="normal" font-style="normal" transform="translate(12.00,423.80) rotate(-90)" >% Correct |<tspan font-style="italic">V</tspan><tspan font-size="10.6" dy="3" fill="#555">1</tspan><tspan dy="-3">, </tspan><tspan font-style="italic">V</tspan><tspan font-size="10.6" dy="3" fill="#555">2</tspan></text>
<line x1="305.30" y1="323.65" x2="305.30" y2="527.50" stroke="#2a2a2a" stroke-width="1.15" />
<line x1="300.50" y1="323.65" x2="305.30" y2="323.65" stroke="#2a2a2a" stroke-width="1.1" />
<text x="0.00" y="0.00" font-family="'Liberation Sans', sans-serif" font-size="15" text-anchor="middle" fill="#1a1a1a" font-weight="normal" font-style="normal" transform="translate(295.50,323.65) rotate(-90)" >75</text>
<line x1="300.50" y1="391.60" x2="305.30" y2="391.60" stroke="#2a2a2a" stroke-width="1.1" />
<text x="0.00" y="0.00" font-family="'Liberation Sans', sans-serif" font-size="15" text-anchor="middle" fill="#1a1a1a" font-weight="normal" font-style="normal" transform="translate(295.50,391.60) rotate(-90)" >70</text>
<line x1="300.50" y1="459.55" x2="305.30" y2="459.55" stroke="#2a2a2a" stroke-width="1.1" />
<text x="0.00" y="0.00" font-family="'Liberation Sans', sans-serif" font-size="15" text-anchor="middle" fill="#1a1a1a" font-weight="normal" font-style="normal" transform="translate(295.50,459.55) rotate(-90)" >65</text>
<line x1="300.50" y1="527.50" x2="305.30" y2="527.50" stroke="#2a2a2a" stroke-width="1.1" />
<text x="0.00" y="0.00" font-family="'Liberation Sans', sans-serif" font-size="15" text-anchor="middle" fill="#1a1a1a" font-weight="normal" font-style="normal" transform="translate(295.50,527.50) rotate(-90)" >60</text>
<line x1="313.50" y1="535.50" x2="513.50" y2="535.50" stroke="#2a2a2a" stroke-width="1.1" />
<line x1="313.50" y1="535.50" x2="313.50" y2="540.50" stroke="#2a2a2a" stroke-width="1.1" />
<text x="313.50" y="556.60" font-family="'Liberation Sans', sans-serif" font-size="15" text-anchor="middle" fill="#1a1a1a" font-weight="normal" font-style="normal" >0</text>
<line x1="363.50" y1="535.50" x2="363.50" y2="540.50" stroke="#2a2a2a" stroke-width="1.1" />
<text x="363.50" y="556.60" font-family="'Liberation Sans', sans-serif" font-size="15" text-anchor="middle" fill="#1a1a1a" font-weight="normal" font-style="normal" >20</text>
<line x1="413.50" y1="535.50" x2="413.50" y2="540.50" stroke="#2a2a2a" stroke-width="1.1" />
<text x="413.50" y="556.60" font-family="'Liberation Sans', sans-serif" font-size="15" text-anchor="middle" fill="#1a1a1a" font-weight="normal" font-style="normal" >40</text>
<line x1="463.50" y1="535.50" x2="463.50" y2="540.50" stroke="#2a2a2a" stroke-width="1.1" />
<text x="463.50" y="556.60" font-family="'Liberation Sans', sans-serif" font-size="15" text-anchor="middle" fill="#1a1a1a" font-weight="normal" font-style="normal" >60</text>
<line x1="513.50" y1="535.50" x2="513.50" y2="540.50" stroke="#2a2a2a" stroke-width="1.1" />
<text x="513.50" y="556.60" font-family="'Liberation Sans', sans-serif" font-size="15" text-anchor="middle" fill="#1a1a1a" font-weight="normal" font-style="normal" >80</text>
<text x="407.90" y="572.50" font-family="'Liberation Sans', sans-serif" font-size="14" font-style="italic" fill="#1a1a1a">V</text>
<text x="418.30" y="576.50" font-family="'Liberation Sans', sans-serif" font-size="10.5" fill="#555">3</text>
<path d="M517.80,525.10 L524.60,525.10 L521.20,530.90 Z" fill="#707070"/>
<text x="514.40" y="521.10" font-family="'Liberation Sans', sans-serif" font-size="12.5" fill="#555" font-style="italic">V<tspan font-style="normal" font-size="8.8" dx="-1.3" dy="1.9">2</tspan></text>
<path d="M530.20,525.10 L537.00,525.10 L533.60,530.90 Z" fill="#707070"/>
<text x="528.10" y="521.10" font-family="'Liberation Sans', sans-serif" font-size="12.5" fill="#555" font-style="italic">V<tspan font-style="normal" font-size="8.8" dx="-1.3" dy="1.9">1</tspan></text>
<text x="156.40" y="318.60" font-family="'Liberation Sans', sans-serif" font-size="14.2" text-anchor="middle" fill="#1a1a1a" font-weight="normal" font-style="normal" >Small late noise</text>
<text x="113.20" y="336.00" font-family="'Liberation Sans', sans-serif" font-size="13.5" text-anchor="start" fill="#1a1a1a" font-weight="normal" font-style="normal" >(</text>
<text x="120.60" y="331.80" font-family="'Liberation Serif', serif" font-size="15" font-style="italic" fill="#1a1a1a">σ</text>
<text x="131.40" y="339.40" font-family="'Liberation Sans', sans-serif" font-size="13.5" text-anchor="start" fill="#1a1a1a" font-weight="normal" font-style="normal" >Late</text>
<text x="162.00" y="336.00" font-family="'Liberation Sans', sans-serif" font-size="13.5" text-anchor="start" fill="#1a1a1a" font-weight="normal" font-style="normal" >=</text>
<text x="174.40" y="336.00" font-family="'Liberation Sans', sans-serif" font-size="13.5" text-anchor="start" fill="#1a1a1a" font-weight="normal" font-style="normal" >1.0</text>
<text x="193.70" y="336.00" font-family="'Liberation Sans', sans-serif" font-size="13.5" text-anchor="start" fill="#1a1a1a" font-weight="normal" font-style="normal" >)</text>
<text x="425.80" y="318.80" font-family="'Liberation Sans', sans-serif" font-size="14.2" text-anchor="middle" fill="#1a1a1a" font-weight="normal" font-style="normal" >Large late noise</text>
<text x="382.90" y="336.00" font-family="'Liberation Sans', sans-serif" font-size="13.5" text-anchor="start" fill="#1a1a1a" font-weight="normal" font-style="normal" >(</text>
<text x="390.30" y="331.80" font-family="'Liberation Serif', serif" font-size="15" font-style="italic" fill="#1a1a1a">σ</text>
<text x="401.10" y="339.40" font-family="'Liberation Sans', sans-serif" font-size="13.5" text-anchor="start" fill="#1a1a1a" font-weight="normal" font-style="normal" >Late</text>
<text x="431.70" y="336.00" font-family="'Liberation Sans', sans-serif" font-size="13.5" text-anchor="start" fill="#1a1a1a" font-weight="normal" font-style="normal" >=</text>
<text x="444.10" y="336.00" font-family="'Liberation Sans', sans-serif" font-size="13.5" text-anchor="start" fill="#1a1a1a" font-weight="normal" font-style="normal" >1.4</text>
<text x="463.40" y="336.00" font-family="'Liberation Sans', sans-serif" font-size="13.5" text-anchor="start" fill="#1a1a1a" font-weight="normal" font-style="normal" >)</text>
<path d="M53.90,359.10 C58.60,358.83 72.05,357.93 82.10,357.50 C92.15,357.07 103.50,356.67 114.20,356.50 C124.90,356.33 135.58,356.33 146.30,356.50 C157.02,356.67 167.78,357.12 178.50,357.50 C189.22,357.88 200.97,358.38 210.60,358.80 C220.23,359.22 229.88,360.48 236.30,360.00 C242.72,359.52 244.83,358.73 249.10,355.90 C253.37,353.07 259.77,345.15 261.90,343.00" stroke="#3353a4" stroke-width="2.6" fill="none" stroke-linecap="round" stroke-linejoin="round"/>
<path d="M53.90,368.70 C55.93,370.03 61.93,374.55 66.10,376.70 C70.27,378.85 73.55,380.95 78.90,381.60 C84.25,382.25 89.63,381.30 98.20,380.60 C106.77,379.90 119.60,378.20 130.30,377.40 C141.00,376.60 151.70,376.23 162.40,375.80 C173.10,375.37 183.80,375.18 194.50,374.80 C205.20,374.42 217.50,374.78 226.60,373.50 C235.70,372.22 243.22,370.20 249.10,367.10 C254.98,364.00 259.77,356.93 261.90,354.90" stroke="#44b7d5" stroke-width="2.6" fill="none" stroke-linecap="round" stroke-linejoin="round"/>
<path d="M53.90,390.20 C56.47,392.77 64.07,400.98 69.30,405.60 C74.53,410.22 79.42,414.90 85.30,417.90 C91.18,420.90 97.10,423.03 104.60,423.60 C112.10,424.17 120.67,422.68 130.30,421.30 C139.93,419.92 151.70,417.10 162.40,415.30 C173.10,413.50 183.80,412.65 194.50,410.50 C205.20,408.35 215.37,406.00 226.60,402.40 C237.83,398.80 256.02,391.15 261.90,388.90" stroke="#52aa54" stroke-width="2.6" fill="none" stroke-linecap="round" stroke-linejoin="round"/>
<path d="M53.90,413.80 C56.47,417.12 63.53,427.43 69.30,433.70 C75.07,439.97 82.08,447.12 88.50,451.40 C94.92,455.68 101.37,457.63 107.80,459.40 C114.23,461.17 120.68,461.83 127.10,462.00 C133.52,462.17 137.73,461.73 146.30,460.40 C154.87,459.07 167.78,456.57 178.50,454.00 C189.22,451.43 200.97,447.85 210.60,445.00 C220.23,442.15 227.75,439.68 236.30,436.90 C244.85,434.12 257.63,429.73 261.90,428.30" stroke="#fbd31a" stroke-width="2.6" fill="none" stroke-linecap="round" stroke-linejoin="round"/>
<path d="M53.90,435.30 C56.47,438.25 63.53,446.83 69.30,453.00 C75.07,459.17 82.08,467.22 88.50,472.30 C94.92,477.38 101.37,480.67 107.80,483.50 C114.23,486.33 120.68,488.12 127.10,489.30 C133.52,490.48 137.73,491.13 146.30,490.60 C154.87,490.07 167.78,488.35 178.50,486.10 C189.22,483.85 200.97,479.95 210.60,477.10 C220.23,474.25 227.75,471.52 236.30,469.00 C244.85,466.48 257.63,463.17 261.90,462.00" stroke="#f49c32" stroke-width="2.6" fill="none" stroke-linecap="round" stroke-linejoin="round"/>
<path d="M53.90,454.00 C56.47,456.50 63.53,463.82 69.30,469.00 C75.07,474.18 82.08,480.28 88.50,485.10 C94.92,489.92 101.37,494.42 107.80,497.90 C114.23,501.38 120.68,503.97 127.10,506.00 C133.52,508.03 140.42,509.30 146.30,510.10 C152.18,510.90 157.03,510.95 162.40,510.80 C167.77,510.65 170.47,510.65 178.50,509.20 C186.53,507.75 200.97,504.35 210.60,502.10 C220.23,499.85 227.75,497.62 236.30,495.70 C244.85,493.78 257.63,491.45 261.90,490.60" stroke="#e6222d" stroke-width="2.6" fill="none" stroke-linecap="round" stroke-linejoin="round"/>
<path d="M313.20,378.00 C318.02,378.17 331.93,378.47 342.10,379.00 C352.27,379.53 363.50,380.28 374.20,381.20 C384.90,382.12 395.58,383.27 406.30,384.50 C417.02,385.73 427.78,387.38 438.50,388.60 C449.22,389.82 461.52,391.00 470.60,391.80 C479.68,392.60 486.58,393.72 493.00,393.40 C499.42,393.08 504.38,392.30 509.10,389.90 C513.82,387.50 519.27,380.82 521.30,379.00" stroke="#3353a4" stroke-width="2.6" fill="none" stroke-linecap="round" stroke-linejoin="round"/>
<path d="M313.20,386.70 C315.35,387.93 321.28,392.17 326.10,394.10 C330.92,396.03 334.08,397.50 342.10,398.30 C350.12,399.10 363.50,398.70 374.20,398.90 C384.90,399.10 395.58,399.13 406.30,399.50 C417.02,399.87 427.78,400.55 438.50,401.10 C449.22,401.65 462.05,402.52 470.60,402.80 C479.15,403.08 483.38,403.45 489.80,402.80 C496.22,402.15 503.85,401.32 509.10,398.90 C514.35,396.48 519.27,390.07 521.30,388.30" stroke="#44b7d5" stroke-width="2.6" fill="none" stroke-linecap="round" stroke-linejoin="round"/>
<path d="M313.20,404.70 C315.88,406.95 323.42,413.82 329.30,418.20 C335.18,422.58 341.55,428.07 348.50,431.00 C355.45,433.93 361.37,435.37 371.00,435.80 C380.63,436.23 395.05,434.40 406.30,433.60 C417.55,432.80 427.78,431.97 438.50,431.00 C449.22,430.03 460.97,429.40 470.60,427.80 C480.23,426.20 487.85,423.92 496.30,421.40 C504.75,418.88 517.13,414.15 521.30,412.70" stroke="#52aa54" stroke-width="2.6" fill="none" stroke-linecap="round" stroke-linejoin="round"/>
<path d="M313.20,425.30 C315.88,428.13 323.42,437.07 329.30,442.30 C335.18,447.53 342.08,452.80 348.50,456.70 C354.92,460.60 360.83,463.55 367.80,465.70 C374.77,467.85 382.80,469.05 390.30,469.60 C397.80,470.15 404.77,469.65 412.80,469.00 C420.83,468.35 428.87,467.47 438.50,465.70 C448.13,463.93 460.97,460.85 470.60,458.40 C480.23,455.95 487.85,453.42 496.30,451.00 C504.75,448.58 517.13,445.08 521.30,443.90" stroke="#fbd31a" stroke-width="2.6" fill="none" stroke-linecap="round" stroke-linejoin="round"/>
<path d="M313.20,444.90 C315.88,447.42 323.42,454.82 329.30,460.00 C335.18,465.18 342.08,471.45 348.50,476.00 C354.92,480.55 360.83,484.35 367.80,487.30 C374.77,490.25 383.88,492.37 390.30,493.70 C396.72,495.03 398.27,495.57 406.30,495.30 C414.33,495.03 427.78,493.82 438.50,492.10 C449.22,490.38 460.97,487.25 470.60,485.00 C480.23,482.75 487.85,480.63 496.30,478.60 C504.75,476.57 517.13,473.77 521.30,472.80" stroke="#f49c32" stroke-width="2.6" fill="none" stroke-linecap="round" stroke-linejoin="round"/>
<path d="M313.20,460.90 C315.88,463.15 323.42,469.47 329.30,474.40 C335.18,479.33 342.08,485.85 348.50,490.50 C354.92,495.15 360.83,498.83 367.80,502.30 C374.77,505.77 382.27,509.25 390.30,511.30 C398.33,513.35 407.97,514.22 416.00,514.60 C424.03,514.98 429.40,514.68 438.50,513.60 C447.60,512.52 460.97,509.98 470.60,508.10 C480.23,506.22 487.85,504.17 496.30,502.30 C504.75,500.43 517.13,497.80 521.30,496.90" stroke="#e6222d" stroke-width="2.6" fill="none" stroke-linecap="round" stroke-linejoin="round"/>
<rect x="537.50" y="320.50" width="102.00" height="132.70" fill="none" stroke="#8a8a8a" stroke-width="1"/>
<line x1="546.90" y1="349.60" x2="560.60" y2="349.60" stroke="#3353a4" stroke-width="3.0" stroke-linecap="round"/>
<text x="587.00" y="354.20" font-family="'Liberation Sans', sans-serif" font-size="14.4" text-anchor="end" fill="#1a1a1a" font-weight="normal" font-style="normal" >0</text>
<line x1="546.90" y1="366.00" x2="560.60" y2="366.00" stroke="#44b7d5" stroke-width="3.0" stroke-linecap="round"/>
<text x="587.00" y="370.60" font-family="'Liberation Sans', sans-serif" font-size="14.4" text-anchor="end" fill="#1a1a1a" font-weight="normal" font-style="normal" >.07</text>
<line x1="546.90" y1="382.80" x2="560.60" y2="382.80" stroke="#52aa54" stroke-width="3.0" stroke-linecap="round"/>
<text x="587.00" y="387.40" font-family="'Liberation Sans', sans-serif" font-size="14.4" text-anchor="end" fill="#1a1a1a" font-weight="normal" font-style="normal" >.14</text>
<line x1="546.90" y1="399.20" x2="560.60" y2="399.20" stroke="#fbd31a" stroke-width="3.0" stroke-linecap="round"/>
<text x="587.00" y="403.80" font-family="'Liberation Sans', sans-serif" font-size="14.4" text-anchor="end" fill="#1a1a1a" font-weight="normal" font-style="normal" >.21</text>
<line x1="546.90" y1="415.50" x2="560.60" y2="415.50" stroke="#f49c32" stroke-width="3.0" stroke-linecap="round"/>
<text x="587.00" y="420.10" font-family="'Liberation Sans', sans-serif" font-size="14.4" text-anchor="end" fill="#1a1a1a" font-weight="normal" font-style="normal" >.28</text>
<line x1="546.90" y1="431.90" x2="560.60" y2="431.90" stroke="#e6222d" stroke-width="3.0" stroke-linecap="round"/>
<text x="587.00" y="436.50" font-family="'Liberation Sans', sans-serif" font-size="14.4" text-anchor="end" fill="#1a1a1a" font-weight="normal" font-style="normal" >.35</text>
<g transform="translate(623.20,0) rotate(90)"><text x="385.0" y="0" font-family="'Liberation Sans', sans-serif" font-size="14" font-weight="bold" text-anchor="middle" fill="#1a1a1a">Early noise</text></g>
<g transform="translate(600.80,0) rotate(90)"><text x="326.0" y="-5.5" font-family="'Liberation Sans', sans-serif" font-size="14" fill="#1a1a1a">(</text><text x="332.6" y="-7.6" font-family="'Liberation Serif', serif" font-size="16.5" font-style="italic" fill="#1a1a1a">σ</text><text x="343.0" y="0" font-family="'Liberation Sans', sans-serif" font-size="13.5" fill="#1a1a1a">Early, Scaled <tspan font-style="italic">V</tspan><tspan font-size="9" dx="-0.5" dy="0.5">3</tspan></text><text x="443.5" y="-5.5" font-family="'Liberation Sans', sans-serif" font-size="14" fill="#1a1a1a">)</text></g>
<text x="2.00" y="612.70" font-family="'Liberation Sans', sans-serif" font-size="30" text-anchor="start" fill="#1a1a1a" font-weight="normal" font-style="normal" >e</text>
<text x="156.40" y="603.70" font-family="'Liberation Sans', sans-serif" font-size="19" text-anchor="middle" fill="#e3262d" font-weight="normal" font-style="normal" >Vague distracters</text>
<text x="426.00" y="603.70" font-family="'Liberation Sans', sans-serif" font-size="19" text-anchor="middle" fill="#3250a0" font-weight="normal" font-style="normal" >Precise distracters</text>
<path d="M54.72,641.35 L57.52,643.80 L61.02,659.57 L64.53,663.07 L68.03,668.33 L73.29,671.83 L78.54,671.83 L83.80,675.33 L85.55,692.85 L90.81,692.85 L96.06,696.36 L101.32,699.86 L106.57,701.61 L110.08,705.12 L113.58,708.62 L116.38,712.12 L118.84,710.37 L121.29,705.12 L124.09,698.11 L127.60,694.60 L131.10,698.11 L134.60,694.60 L139.86,691.10 L143.36,696.36 L146.87,684.09 L150.37,678.84 L155.63,668.33 L160.88,652.56 L166.14,647.30 L171.39,649.05 L174.90,652.56 L178.40,650.81 L181.91,645.55 L185.41,642.05 L188.91,631.53 L191.37,621.02 L194.17,614.02 L197.67,615.77 L201.18,612.26 L204.68,615.77 L208.19,626.28 L211.69,636.79 L215.19,640.29 L220.45,642.05 L225.70,642.05 L230.96,647.30 L234.46,638.54 L239.72,635.04 L243.22,631.53 L246.73,638.54 L250.23,652.56 L253.74,664.82 L257.94,666.57 L262.49,665.87 L262.49,747.86 L257.24,748.91 L253.74,747.16 L250.23,729.64 L246.73,715.63 L241.47,705.12 L236.22,698.11 L230.96,701.61 L225.70,703.36 L220.45,698.11 L215.19,692.85 L211.69,691.10 L208.19,682.34 L204.68,666.57 L201.18,661.32 L197.67,659.57 L194.17,664.82 L190.67,673.58 L187.16,680.59 L183.66,691.10 L180.15,699.86 L178.40,692.85 L173.15,689.35 L167.89,685.84 L162.63,685.84 L157.38,692.85 L152.12,703.36 L148.62,705.12 L145.12,719.13 L141.61,729.64 L138.11,722.63 L132.85,726.14 L127.60,733.15 L122.34,740.15 L118.84,747.16 L114.28,750.67 L110.08,738.40 L104.82,729.64 L99.57,726.14 L92.56,722.63 L85.55,722.63 L83.80,699.86 L78.54,696.36 L73.29,694.60 L68.03,692.85 L62.78,689.35 L59.27,680.59 L54.72,673.58 Z" fill="#f07050" fill-opacity="0.3" stroke="none"/>
<path d="M54.72,699.86 L59.27,708.62 L64.53,722.63 L69.78,729.64 L75.04,733.15 L80.29,736.65 L83.80,743.66 L87.30,754.17 L92.56,754.17 L97.81,747.16 L103.07,747.16 L108.33,752.42 L113.58,754.17 L118.84,747.16 L124.09,729.64 L129.35,719.13 L134.60,726.14 L139.86,712.12 L145.12,701.61 L150.37,694.60 L155.63,696.36 L160.88,699.86 L166.14,705.12 L171.39,712.12 L176.65,719.13 L180.15,720.88 L183.66,715.63 L188.91,705.12 L192.42,673.58 L197.67,684.09 L202.93,698.11 L208.19,694.60 L213.44,691.10 L218.70,689.35 L223.95,694.60 L229.21,698.11 L234.46,689.35 L237.97,671.83 L243.22,668.33 L248.48,671.83 L253.74,677.08 L258.99,666.57 L262.49,657.81 L262.49,743.66 L257.24,741.91 L251.98,736.65 L246.73,726.14 L239.72,720.88 L234.46,736.65 L229.21,750.67 L222.20,747.16 L215.19,740.15 L208.19,745.41 L202.93,747.16 L197.67,740.15 L192.42,733.15 L187.16,759.43 L181.91,764.68 L178.40,771.69 L173.15,769.94 L167.89,759.43 L162.63,754.17 L157.38,754.17 L152.12,747.16 L146.87,743.66 L141.61,750.67 L136.36,764.68 L131.10,776.94 L126.90,775.19 L122.34,789.21 L117.79,797.97 L113.58,796.22 L108.33,783.95 L103.07,782.20 L97.81,787.46 L92.56,789.21 L87.30,794.46 L83.80,778.70 L78.54,764.68 L71.53,761.18 L64.53,754.17 L59.27,740.15 L54.72,729.64 Z" fill="#fcc050" fill-opacity="0.25" stroke="none"/>
<path d="M54.72,657.81 L56.82,657.81 L59.27,668.33 L61.72,673.58 L64.53,675.33 L67.33,678.84 L69.78,681.29 L73.29,684.79 L76.09,682.34 L79.24,682.34 L82.05,686.90 L85.55,708.62 L89.05,708.62 L92.56,709.32 L95.36,712.12 L97.81,713.88 L100.27,712.82 L103.07,715.63 L105.87,717.38 L108.33,716.68 L110.78,724.39 L113.58,732.45 L116.38,726.14 L118.84,730.34 L120.59,735.95 L123.39,727.89 L125.84,715.63 L128.30,713.88 L131.10,714.93 L132.85,712.82 L135.30,701.61 L138.11,711.42 L140.91,715.63 L142.66,718.08 L145.12,706.87 L148.62,693.90 L151.42,693.90 L153.88,691.10 L157.38,680.59 L160.88,671.83 L163.34,669.38 L166.14,668.33 L168.94,665.87 L171.39,669.03 L174.20,673.58 L176.65,677.08 L178.40,674.63 L180.15,685.84 L182.96,671.83 L185.41,666.57 L187.86,657.81 L190.67,650.81 L193.12,643.80 L195.22,636.79 L197.67,635.74 L199.78,644.50 L201.88,636.09 L203.98,636.79 L206.43,640.29 L209.24,650.81 L211.69,668.33 L214.49,668.33 L216.94,673.58 L218.70,677.08 L221.15,673.58 L223.60,675.33 L226.41,679.89 L229.21,684.09 L232.01,680.59 L234.46,675.33 L236.92,673.58 L239.72,671.83 L242.52,662.37 L244.98,673.58 L247.78,682.34 L250.23,694.60 L251.98,709.32 L254.44,706.87 L257.24,705.82 L260.04,705.12 L262.49,708.62" fill="none" stroke="#e8262e" stroke-width="2.2" stroke-linejoin="round" stroke-linecap="round"/>
<path d="M54.72,714.93 L56.82,720.88 L59.27,729.64 L61.72,734.90 L64.53,743.66 L67.33,746.46 L69.78,746.46 L73.29,748.91 L76.09,751.37 L79.24,753.47 L82.05,753.47 L84.85,768.19 L86.25,776.94 L88.35,769.94 L90.81,771.69 L93.26,768.19 L95.36,767.48 L97.81,767.48 L100.27,764.68 L103.07,761.88 L105.87,764.68 L108.33,767.48 L111.13,768.89 L113.58,776.94 L116.38,777.65 L118.84,773.44 L121.29,767.48 L123.39,764.68 L125.84,747.16 L127.60,740.15 L129.35,757.67 L131.80,754.17 L134.60,747.16 L136.36,743.66 L138.81,731.39 L141.61,722.63 L145.12,719.83 L148.62,715.63 L151.42,720.88 L153.88,733.15 L156.33,734.90 L159.13,727.89 L161.93,724.39 L164.39,726.14 L166.84,733.15 L169.64,743.66 L172.45,750.67 L174.90,754.17 L177.35,748.91 L180.15,743.66 L182.96,738.40 L185.41,738.40 L187.86,740.15 L189.96,734.90 L192.42,703.36 L194.87,712.12 L197.67,712.82 L200.48,715.63 L202.93,725.44 L205.38,731.39 L208.19,720.88 L210.99,722.63 L213.44,719.13 L215.19,717.38 L216.94,712.12 L219.40,717.38 L222.20,724.39 L225.70,726.84 L229.21,727.89 L232.01,722.63 L234.46,712.12 L237.97,695.30 L240.42,692.85 L243.22,693.90 L246.73,692.85 L249.53,694.60 L251.98,706.87 L254.44,702.66 L257.24,705.12 L259.69,704.06 L262.49,700.91" fill="none" stroke="#f4b124" stroke-width="2.2" stroke-linejoin="round" stroke-linecap="round"/>
<line x1="45.00" y1="764.80" x2="269.80" y2="609.40" stroke="#e8262e" stroke-width="1.2" />
<line x1="45.00" y1="789.70" x2="269.80" y2="691.20" stroke="#f4b124" stroke-width="1.2" />
<path d="M313.31,716.36 L317.52,721.61 L322.78,719.86 L328.03,718.11 L335.04,716.36 L342.05,714.60 L343.80,735.63 L347.30,739.13 L352.56,735.63 L357.81,726.87 L363.07,725.12 L368.33,721.61 L373.58,718.11 L378.84,698.84 L383.39,707.60 L387.60,725.12 L392.85,732.12 L398.11,735.63 L403.36,737.38 L408.62,732.12 L413.88,751.39 L419.13,753.15 L424.39,747.89 L429.64,744.39 L434.90,739.13 L440.15,735.63 L447.16,725.12 L452.42,721.61 L457.67,725.12 L462.93,721.61 L468.19,712.85 L473.44,707.60 L478.70,709.35 L482.20,700.59 L485.70,714.60 L490.96,726.87 L496.22,725.12 L501.47,721.61 L506.73,712.85 L511.98,721.61 L517.24,712.85 L521.44,697.79 L521.44,781.18 L517.24,788.19 L511.98,791.69 L506.73,770.67 L501.47,779.43 L496.22,781.18 L490.96,789.94 L487.46,779.43 L483.95,751.39 L480.45,761.91 L475.19,765.41 L469.94,768.91 L464.68,775.92 L459.43,779.43 L454.17,777.67 L448.91,781.18 L443.66,791.69 L438.40,788.19 L433.15,795.19 L427.89,796.94 L422.63,798.70 L417.38,805.70 L412.12,791.69 L408.62,781.18 L403.36,786.43 L398.11,781.18 L392.85,774.17 L387.60,770.67 L382.34,746.14 L377.08,751.39 L371.83,756.65 L366.57,760.15 L361.32,761.91 L356.06,774.17 L350.81,777.67 L345.55,784.68 L343.80,774.17 L342.05,749.64 L335.04,751.39 L328.03,754.90 L322.78,758.40 L317.52,756.65 L313.31,747.89 Z" fill="#5a66c0" fill-opacity="0.29" stroke="none"/>
<path d="M313.31,650.83 L317.52,655.04 L322.78,653.29 L328.03,655.04 L335.04,655.04 L340.29,655.04 L343.80,665.55 L347.30,665.55 L352.56,662.05 L357.81,658.54 L361.32,651.53 L364.12,644.53 L368.33,651.53 L371.83,662.05 L375.33,658.54 L380.59,669.05 L384.09,676.06 L387.60,683.07 L391.80,686.57 L396.36,683.07 L401.61,688.33 L406.87,690.08 L410.37,697.08 L413.88,684.82 L419.13,683.07 L424.39,681.32 L429.64,684.82 L434.90,683.07 L439.45,674.31 L443.66,669.05 L447.16,669.05 L451.37,649.78 L455.92,653.29 L461.18,662.05 L464.68,653.29 L468.19,651.53 L473.44,644.53 L476.94,669.05 L480.45,665.55 L485.70,669.05 L490.96,658.54 L496.22,655.04 L501.47,655.04 L506.73,651.53 L511.98,644.53 L517.24,634.02 L521.44,626.31 L521.44,693.58 L517.24,700.59 L511.98,704.09 L506.73,709.35 L501.47,709.35 L496.22,712.85 L490.96,714.60 L485.70,721.61 L480.45,716.36 L476.94,725.12 L473.44,698.84 L468.19,702.34 L462.93,705.84 L457.67,698.84 L452.42,697.08 L447.16,704.09 L441.91,707.60 L436.65,718.11 L431.39,725.12 L426.14,725.12 L420.88,725.12 L415.63,728.62 L411.42,751.39 L408.62,744.39 L403.36,735.63 L398.11,730.37 L392.85,732.12 L389.35,735.63 L385.84,725.12 L380.59,719.86 L375.33,712.85 L371.83,704.09 L368.33,698.84 L363.07,695.33 L357.81,702.34 L352.56,705.84 L347.30,707.60 L343.80,709.35 L340.29,691.83 L335.04,690.08 L328.03,688.33 L322.78,688.33 L317.52,684.82 L313.31,681.32 Z" fill="#7cc27a" fill-opacity="0.28" stroke="none"/>
<path d="M313.31,666.25 L315.77,667.30 L318.22,669.05 L320.32,672.56 L322.78,671.86 L325.23,669.05 L327.33,671.86 L329.78,675.01 L332.24,674.31 L335.04,675.36 L337.84,674.31 L340.29,674.31 L342.05,673.61 L343.80,688.33 L344.85,696.38 L347.30,691.83 L349.75,690.08 L351.86,691.83 L354.31,686.57 L356.76,681.32 L359.57,677.81 L362.02,674.31 L364.12,662.05 L366.57,670.81 L368.68,674.31 L370.78,667.30 L372.88,686.57 L375.33,688.33 L377.79,690.08 L379.89,694.28 L382.34,690.08 L384.79,691.83 L386.90,698.84 L389.35,719.86 L391.80,709.35 L394.60,705.84 L397.41,709.35 L399.86,705.84 L402.31,709.35 L405.12,714.60 L407.92,719.86 L410.37,726.87 L411.42,733.88 L413.88,714.60 L416.33,704.09 L419.13,705.84 L421.93,709.35 L424.39,702.34 L426.84,704.09 L429.64,707.60 L432.45,707.60 L434.90,704.09 L436.65,696.38 L439.45,694.28 L441.21,686.57 L443.66,688.33 L446.46,690.08 L448.91,686.57 L451.37,676.06 L454.17,674.31 L456.97,677.81 L459.43,686.57 L461.88,687.62 L464.68,678.86 L467.48,686.57 L469.94,674.31 L472.39,668.35 L474.49,681.32 L476.94,702.34 L479.40,690.08 L482.20,695.33 L484.65,699.89 L486.76,686.57 L489.21,695.33 L491.66,686.57 L494.46,684.82 L496.92,681.32 L499.72,684.82 L502.52,682.37 L504.98,679.57 L507.43,677.81 L510.23,674.31 L512.68,669.05 L514.79,664.85 L517.24,665.55 L519.34,659.24 L521.44,658.54" fill="none" stroke="#4fa557" stroke-width="2.2" stroke-linejoin="round" stroke-linecap="round"/>
<path d="M313.31,732.82 L315.77,740.88 L318.22,741.93 L321.02,740.88 L323.83,737.38 L326.28,735.63 L328.73,732.82 L331.53,733.88 L333.99,732.12 L336.79,730.37 L339.24,730.37 L342.05,730.37 L343.80,753.15 L344.85,767.16 L347.30,761.91 L349.75,758.40 L352.56,756.65 L354.31,749.64 L356.76,748.94 L359.57,740.88 L362.02,739.13 L364.82,740.88 L367.27,737.38 L370.08,739.13 L372.53,734.93 L374.63,733.88 L377.08,731.42 L379.19,721.61 L381.29,722.31 L383.39,725.12 L385.84,735.63 L388.30,751.39 L390.40,754.90 L392.85,753.15 L395.30,756.65 L397.41,759.45 L399.86,756.65 L402.31,761.91 L404.41,758.40 L406.17,751.39 L407.92,752.45 L409.67,760.15 L412.12,770.67 L414.93,779.43 L417.38,781.88 L419.83,779.43 L422.63,774.17 L425.44,770.67 L427.89,774.17 L430.34,770.67 L432.45,767.16 L434.90,760.15 L437.35,758.40 L439.45,760.15 L441.91,767.16 L444.36,763.66 L446.46,756.65 L448.91,750.34 L451.37,746.84 L454.17,749.64 L456.62,751.39 L459.43,753.15 L461.88,751.39 L464.68,754.90 L467.48,742.63 L469.94,737.38 L472.39,733.88 L475.19,737.38 L477.65,740.88 L479.75,737.38 L482.20,723.36 L484.65,735.63 L486.76,754.90 L489.21,760.15 L492.01,751.39 L494.46,749.64 L496.92,751.39 L499.02,753.85 L501.47,749.64 L503.92,744.39 L506.03,733.88 L508.48,742.63 L510.93,751.39 L513.03,754.90 L515.49,756.65 L517.94,739.13 L520.74,738.43" fill="none" stroke="#2f52a4" stroke-width="2.2" stroke-linejoin="round" stroke-linecap="round"/>
<line x1="305.00" y1="691.20" x2="529.80" y2="698.60" stroke="#5fb56a" stroke-width="1.2" />
<line x1="305.00" y1="739.40" x2="529.80" y2="764.80" stroke="#3654a6" stroke-width="1.2" />
<line x1="46.20" y1="613.50" x2="46.20" y2="798.30" stroke="#2a2a2a" stroke-width="1.15" />
<line x1="41.20" y1="613.50" x2="46.20" y2="613.50" stroke="#2a2a2a" stroke-width="1.1" />
<text x="0.00" y="0.00" font-family="'Liberation Sans', sans-serif" font-size="15" text-anchor="middle" fill="#1a1a1a" font-weight="normal" font-style="normal" transform="translate(35.80,613.50) rotate(-90)" >74</text>
<line x1="41.20" y1="659.70" x2="46.20" y2="659.70" stroke="#2a2a2a" stroke-width="1.1" />
<text x="0.00" y="0.00" font-family="'Liberation Sans', sans-serif" font-size="15" text-anchor="middle" fill="#1a1a1a" font-weight="normal" font-style="normal" transform="translate(35.80,659.70) rotate(-90)" >71</text>
<line x1="41.20" y1="705.90" x2="46.20" y2="705.90" stroke="#2a2a2a" stroke-width="1.1" />
<text x="0.00" y="0.00" font-family="'Liberation Sans', sans-serif" font-size="15" text-anchor="middle" fill="#1a1a1a" font-weight="normal" font-style="normal" transform="translate(35.80,705.90) rotate(-90)" >68</text>
<line x1="41.20" y1="752.10" x2="46.20" y2="752.10" stroke="#2a2a2a" stroke-width="1.1" />
<text x="0.00" y="0.00" font-family="'Liberation Sans', sans-serif" font-size="15" text-anchor="middle" fill="#1a1a1a" font-weight="normal" font-style="normal" transform="translate(35.80,752.10) rotate(-90)" >65</text>
<line x1="41.20" y1="798.30" x2="46.20" y2="798.30" stroke="#2a2a2a" stroke-width="1.1" />
<text x="0.00" y="0.00" font-family="'Liberation Sans', sans-serif" font-size="15" text-anchor="middle" fill="#1a1a1a" font-weight="normal" font-style="normal" transform="translate(35.80,798.30) rotate(-90)" >62</text>
<line x1="54.40" y1="809.80" x2="263.70" y2="809.80" stroke="#2a2a2a" stroke-width="1.1" />
<line x1="54.40" y1="809.80" x2="54.40" y2="814.80" stroke="#2a2a2a" stroke-width="1.1" />
<text x="54.40" y="831.40" font-family="'Liberation Sans', sans-serif" font-size="15" text-anchor="middle" fill="#1a1a1a" font-weight="normal" font-style="normal" >0.0</text>
<line x1="96.26" y1="809.80" x2="96.26" y2="814.80" stroke="#2a2a2a" stroke-width="1.1" />
<text x="96.26" y="831.40" font-family="'Liberation Sans', sans-serif" font-size="15" text-anchor="middle" fill="#1a1a1a" font-weight="normal" font-style="normal" >0.2</text>
<line x1="138.12" y1="809.80" x2="138.12" y2="814.80" stroke="#2a2a2a" stroke-width="1.1" />
<text x="138.12" y="831.40" font-family="'Liberation Sans', sans-serif" font-size="15" text-anchor="middle" fill="#1a1a1a" font-weight="normal" font-style="normal" >0.4</text>
<line x1="179.98" y1="809.80" x2="179.98" y2="814.80" stroke="#2a2a2a" stroke-width="1.1" />
<text x="179.98" y="831.40" font-family="'Liberation Sans', sans-serif" font-size="15" text-anchor="middle" fill="#1a1a1a" font-weight="normal" font-style="normal" >0.6</text>
<line x1="221.84" y1="809.80" x2="221.84" y2="814.80" stroke="#2a2a2a" stroke-width="1.1" />
<text x="221.84" y="831.40" font-family="'Liberation Sans', sans-serif" font-size="15" text-anchor="middle" fill="#1a1a1a" font-weight="normal" font-style="normal" >0.8</text>
<line x1="263.70" y1="809.80" x2="263.70" y2="814.80" stroke="#2a2a2a" stroke-width="1.1" />
<text x="263.70" y="831.40" font-family="'Liberation Sans', sans-serif" font-size="15" text-anchor="middle" fill="#1a1a1a" font-weight="normal" font-style="normal" >1.0</text>
<text x="125.90" y="848.50" font-family="'Liberation Sans', sans-serif" font-size="14" text-anchor="start" fill="#1a1a1a" font-weight="normal" font-style="normal" >Scaled</text>
<text x="173.90" y="848.50" font-family="'Liberation Sans', sans-serif" font-size="14" font-style="italic" fill="#1a1a1a">V</text>
<text x="184.30" y="852.50" font-family="'Liberation Sans', sans-serif" font-size="10.5" fill="#555">3</text>
<text x="0.00" y="0.00" font-family="'Liberation Sans', sans-serif" font-size="14.7" text-anchor="middle" fill="#1a1a1a" font-weight="normal" font-style="normal" transform="translate(12.00,703.70) rotate(-90)" >% Correct |<tspan font-style="italic">V</tspan><tspan font-size="10.6" dy="3" fill="#555">1</tspan><tspan dy="-3">, </tspan><tspan font-style="italic">V</tspan><tspan font-size="10.6" dy="3" fill="#555">2</tspan></text>
<line x1="305.30" y1="613.50" x2="305.30" y2="798.30" stroke="#2a2a2a" stroke-width="1.15" />
<line x1="300.50" y1="613.50" x2="305.30" y2="613.50" stroke="#2a2a2a" stroke-width="1.1" />
<text x="0.00" y="0.00" font-family="'Liberation Sans', sans-serif" font-size="15" text-anchor="middle" fill="#1a1a1a" font-weight="normal" font-style="normal" transform="translate(294.80,613.50) rotate(-90)" >74</text>
<line x1="300.50" y1="659.70" x2="305.30" y2="659.70" stroke="#2a2a2a" stroke-width="1.1" />
<text x="0.00" y="0.00" font-family="'Liberation Sans', sans-serif" font-size="15" text-anchor="middle" fill="#1a1a1a" font-weight="normal" font-style="normal" transform="translate(294.80,659.70) rotate(-90)" >71</text>
<line x1="300.50" y1="705.90" x2="305.30" y2="705.90" stroke="#2a2a2a" stroke-width="1.1" />
<text x="0.00" y="0.00" font-family="'Liberation Sans', sans-serif" font-size="15" text-anchor="middle" fill="#1a1a1a" font-weight="normal" font-style="normal" transform="translate(294.80,705.90) rotate(-90)" >68</text>
<line x1="300.50" y1="752.10" x2="305.30" y2="752.10" stroke="#2a2a2a" stroke-width="1.1" />
<text x="0.00" y="0.00" font-family="'Liberation Sans', sans-serif" font-size="15" text-anchor="middle" fill="#1a1a1a" font-weight="normal" font-style="normal" transform="translate(294.80,752.10) rotate(-90)" >65</text>
<line x1="300.50" y1="798.30" x2="305.30" y2="798.30" stroke="#2a2a2a" stroke-width="1.1" />
<text x="0.00" y="0.00" font-family="'Liberation Sans', sans-serif" font-size="15" text-anchor="middle" fill="#1a1a1a" font-weight="normal" font-style="normal" transform="translate(294.80,798.30) rotate(-90)" >62</text>
<line x1="313.10" y1="809.80" x2="521.70" y2="809.80" stroke="#2a2a2a" stroke-width="1.1" />
<line x1="313.10" y1="809.80" x2="313.10" y2="814.80" stroke="#2a2a2a" stroke-width="1.1" />
<text x="313.10" y="831.40" font-family="'Liberation Sans', sans-serif" font-size="15" text-anchor="middle" fill="#1a1a1a" font-weight="normal" font-style="normal" >0.0</text>
<line x1="354.82" y1="809.80" x2="354.82" y2="814.80" stroke="#2a2a2a" stroke-width="1.1" />
<text x="354.82" y="831.40" font-family="'Liberation Sans', sans-serif" font-size="15" text-anchor="middle" fill="#1a1a1a" font-weight="normal" font-style="normal" >0.2</text>
<line x1="396.54" y1="809.80" x2="396.54" y2="814.80" stroke="#2a2a2a" stroke-width="1.1" />
<text x="396.54" y="831.40" font-family="'Liberation Sans', sans-serif" font-size="15" text-anchor="middle" fill="#1a1a1a" font-weight="normal" font-style="normal" >0.4</text>
<line x1="438.26" y1="809.80" x2="438.26" y2="814.80" stroke="#2a2a2a" stroke-width="1.1" />
<text x="438.26" y="831.40" font-family="'Liberation Sans', sans-serif" font-size="15" text-anchor="middle" fill="#1a1a1a" font-weight="normal" font-style="normal" >0.6</text>
<line x1="479.98" y1="809.80" x2="479.98" y2="814.80" stroke="#2a2a2a" stroke-width="1.1" />
<text x="479.98" y="831.40" font-family="'Liberation Sans', sans-serif" font-size="15" text-anchor="middle" fill="#1a1a1a" font-weight="normal" font-style="normal" >0.8</text>
<line x1="521.70" y1="809.80" x2="521.70" y2="814.80" stroke="#2a2a2a" stroke-width="1.1" />
<text x="521.70" y="831.40" font-family="'Liberation Sans', sans-serif" font-size="15" text-anchor="middle" fill="#1a1a1a" font-weight="normal" font-style="normal" >1.0</text>
<text x="385.00" y="848.50" font-family="'Liberation Sans', sans-serif" font-size="14" text-anchor="start" fill="#1a1a1a" font-weight="normal" font-style="normal" >Scaled</text>
<text x="433.00" y="848.50" font-family="'Liberation Sans', sans-serif" font-size="14" font-style="italic" fill="#1a1a1a">V</text>
<text x="443.40" y="852.50" font-family="'Liberation Sans', sans-serif" font-size="10.5" fill="#555">3</text>
<rect x="537.5" y="615.7" width="120.2" height="137.8" fill="none" stroke="#8a8a8a" stroke-width="1"/>
<text x="547.50" y="635.00" font-family="'Liberation Sans', sans-serif" font-size="14.4" text-anchor="start" fill="#1a1a1a" font-weight="bold" font-style="normal" >Vagueness</text>
<text transform="translate(555.0,679.3) rotate(-45)" font-family="'Liberation Sans', sans-serif" font-size="14.4" fill="#1a1a1a">Vague</text>
<text transform="translate(586.5,680.3) rotate(-45)" font-family="'Liberation Sans', sans-serif" font-size="14.4" fill="#1a1a1a">Precise</text>
<rect x="547.2" y="683.6" width="17" height="16.8" fill="#e5232f"/>
<rect x="575.9" y="683.6" width="16.8" height="16.8" fill="#5fb072"/>
<rect x="547.2" y="715.3" width="17" height="16.8" fill="#f7b52a"/>
<rect x="575.9" y="715.3" width="16.8" height="16.8" fill="#3457a8"/>
<line x1="570.30" y1="683.60" x2="570.30" y2="732.60" stroke="#555" stroke-width="1.1" />
<line x1="549.00" y1="707.90" x2="590.90" y2="707.90" stroke="#999" stroke-width="1.2" />
<g transform="translate(603.00,0) rotate(90)"><text x="681.6" y="0" font-family="'Liberation Sans', sans-serif" font-size="14.4" fill="#1a1a1a">Low</text><text x="716.0" y="0" font-family="'Liberation Sans', sans-serif" font-size="14.4" fill="#1a1a1a">High</text></g>
<g transform="translate(639.80,0) rotate(90)"><text x="710.6" y="0" font-family="'Liberation Sans', sans-serif" font-size="14.4" font-weight="bold" text-anchor="middle" fill="#1a1a1a">Time</text></g>
<g transform="translate(628.40,0) rotate(90)"><text x="712.1" y="0" font-family="'Liberation Sans', sans-serif" font-size="14.4" font-weight="bold" text-anchor="middle" fill="#1a1a1a">pressure</text></g>
<text x="2.50" y="890.70" font-family="'Liberation Sans', sans-serif" font-size="30" text-anchor="start" fill="#1a1a1a" font-weight="normal" font-style="normal" >f</text>
<text x="156.80" y="881.70" font-family="'Liberation Sans', sans-serif" font-size="19" text-anchor="middle" fill="#1a1a1a" font-weight="normal" font-style="normal" >Time pressure - Low</text>
<text x="426.00" y="881.70" font-family="'Liberation Sans', sans-serif" font-size="19" text-anchor="middle" fill="#1a1a1a" font-weight="normal" font-style="normal" >Time pressure - High</text>
<line x1="44.50" y1="886.96" x2="44.50" y2="1090.30" stroke="#2a2a2a" stroke-width="1.15" />
<line x1="39.60" y1="886.96" x2="44.50" y2="886.96" stroke="#2a2a2a" stroke-width="1.1" />
<text x="0.00" y="0.00" font-family="'Liberation Sans', sans-serif" font-size="15" text-anchor="middle" fill="#1a1a1a" font-weight="normal" font-style="normal" transform="translate(34.60,886.96) rotate(-90)" >75</text>
<line x1="39.60" y1="937.79" x2="44.50" y2="937.79" stroke="#2a2a2a" stroke-width="1.1" />
<text x="0.00" y="0.00" font-family="'Liberation Sans', sans-serif" font-size="15" text-anchor="middle" fill="#1a1a1a" font-weight="normal" font-style="normal" transform="translate(34.60,937.79) rotate(-90)" >70</text>
<line x1="39.60" y1="988.63" x2="44.50" y2="988.63" stroke="#2a2a2a" stroke-width="1.1" />
<text x="0.00" y="0.00" font-family="'Liberation Sans', sans-serif" font-size="15" text-anchor="middle" fill="#1a1a1a" font-weight="normal" font-style="normal" transform="translate(34.60,988.63) rotate(-90)" >65</text>
<line x1="39.60" y1="1039.46" x2="44.50" y2="1039.46" stroke="#2a2a2a" stroke-width="1.1" />
<text x="0.00" y="0.00" font-family="'Liberation Sans', sans-serif" font-size="15" text-anchor="middle" fill="#1a1a1a" font-weight="normal" font-style="normal" transform="translate(34.60,1039.46) rotate(-90)" >60</text>
<line x1="39.60" y1="1090.30" x2="44.50" y2="1090.30" stroke="#2a2a2a" stroke-width="1.1" />
<text x="0.00" y="0.00" font-family="'Liberation Sans', sans-serif" font-size="15" text-anchor="middle" fill="#1a1a1a" font-weight="normal" font-style="normal" transform="translate(34.60,1090.30) rotate(-90)" >55</text>
<line x1="52.50" y1="1098.60" x2="262.30" y2="1098.60" stroke="#2a2a2a" stroke-width="1.1" />
<line x1="52.50" y1="1098.60" x2="52.50" y2="1103.60" stroke="#2a2a2a" stroke-width="1.1" />
<text x="52.50" y="1120.40" font-family="'Liberation Sans', sans-serif" font-size="15" text-anchor="middle" fill="#1a1a1a" font-weight="normal" font-style="normal" >0.0</text>
<line x1="94.46" y1="1098.60" x2="94.46" y2="1103.60" stroke="#2a2a2a" stroke-width="1.1" />
<text x="94.46" y="1120.40" font-family="'Liberation Sans', sans-serif" font-size="15" text-anchor="middle" fill="#1a1a1a" font-weight="normal" font-style="normal" >0.2</text>
<line x1="136.42" y1="1098.60" x2="136.42" y2="1103.60" stroke="#2a2a2a" stroke-width="1.1" />
<text x="136.42" y="1120.40" font-family="'Liberation Sans', sans-serif" font-size="15" text-anchor="middle" fill="#1a1a1a" font-weight="normal" font-style="normal" >0.4</text>
<line x1="178.38" y1="1098.60" x2="178.38" y2="1103.60" stroke="#2a2a2a" stroke-width="1.1" />
<text x="178.38" y="1120.40" font-family="'Liberation Sans', sans-serif" font-size="15" text-anchor="middle" fill="#1a1a1a" font-weight="normal" font-style="normal" >0.6</text>
<line x1="220.34" y1="1098.60" x2="220.34" y2="1103.60" stroke="#2a2a2a" stroke-width="1.1" />
<text x="220.34" y="1120.40" font-family="'Liberation Sans', sans-serif" font-size="15" text-anchor="middle" fill="#1a1a1a" font-weight="normal" font-style="normal" >0.8</text>
<line x1="262.30" y1="1098.60" x2="262.30" y2="1103.60" stroke="#2a2a2a" stroke-width="1.1" />
<text x="262.30" y="1120.40" font-family="'Liberation Sans', sans-serif" font-size="15" text-anchor="middle" fill="#1a1a1a" font-weight="normal" font-style="normal" >1.0</text>
<text x="123.50" y="1137.00" font-family="'Liberation Sans', sans-serif" font-size="14" text-anchor="start" fill="#1a1a1a" font-weight="normal" font-style="normal" >Scaled</text>
<text x="171.50" y="1137.00" font-family="'Liberation Sans', sans-serif" font-size="14" font-style="italic" fill="#1a1a1a">V</text>
<text x="181.90" y="1141.00" font-family="'Liberation Sans', sans-serif" font-size="10.5" fill="#555">3</text>
<text x="0.00" y="0.00" font-family="'Liberation Sans', sans-serif" font-size="14.7" text-anchor="middle" fill="#1a1a1a" font-weight="normal" font-style="normal" transform="translate(12.00,994.80) rotate(-90)" >% Correct |<tspan font-style="italic">V</tspan><tspan font-size="10.6" dy="3" fill="#555">1</tspan><tspan dy="-3">, </tspan><tspan font-style="italic">V</tspan><tspan font-size="10.6" dy="3" fill="#555">2</tspan></text>
<line x1="304.70" y1="886.96" x2="304.70" y2="1090.30" stroke="#2a2a2a" stroke-width="1.15" />
<line x1="300.10" y1="886.96" x2="304.70" y2="886.96" stroke="#2a2a2a" stroke-width="1.1" />
<text x="0.00" y="0.00" font-family="'Liberation Sans', sans-serif" font-size="15" text-anchor="middle" fill="#1a1a1a" font-weight="normal" font-style="normal" transform="translate(295.00,886.96) rotate(-90)" >75</text>
<line x1="300.10" y1="937.79" x2="304.70" y2="937.79" stroke="#2a2a2a" stroke-width="1.1" />
<text x="0.00" y="0.00" font-family="'Liberation Sans', sans-serif" font-size="15" text-anchor="middle" fill="#1a1a1a" font-weight="normal" font-style="normal" transform="translate(295.00,937.79) rotate(-90)" >70</text>
<line x1="300.10" y1="988.63" x2="304.70" y2="988.63" stroke="#2a2a2a" stroke-width="1.1" />
<text x="0.00" y="0.00" font-family="'Liberation Sans', sans-serif" font-size="15" text-anchor="middle" fill="#1a1a1a" font-weight="normal" font-style="normal" transform="translate(295.00,988.63) rotate(-90)" >65</text>
<line x1="300.10" y1="1039.46" x2="304.70" y2="1039.46" stroke="#2a2a2a" stroke-width="1.1" />
<text x="0.00" y="0.00" font-family="'Liberation Sans', sans-serif" font-size="15" text-anchor="middle" fill="#1a1a1a" font-weight="normal" font-style="normal" transform="translate(295.00,1039.46) rotate(-90)" >60</text>
<line x1="300.10" y1="1090.30" x2="304.70" y2="1090.30" stroke="#2a2a2a" stroke-width="1.1" />
<text x="0.00" y="0.00" font-family="'Liberation Sans', sans-serif" font-size="15" text-anchor="middle" fill="#1a1a1a" font-weight="normal" font-style="normal" transform="translate(295.00,1090.30) rotate(-90)" >55</text>
<line x1="313.10" y1="1098.60" x2="521.70" y2="1098.60" stroke="#2a2a2a" stroke-width="1.1" />
<line x1="313.10" y1="1098.60" x2="313.10" y2="1103.60" stroke="#2a2a2a" stroke-width="1.1" />
<text x="313.10" y="1120.40" font-family="'Liberation Sans', sans-serif" font-size="15" text-anchor="middle" fill="#1a1a1a" font-weight="normal" font-style="normal" >0.0</text>
<line x1="354.82" y1="1098.60" x2="354.82" y2="1103.60" stroke="#2a2a2a" stroke-width="1.1" />
<text x="354.82" y="1120.40" font-family="'Liberation Sans', sans-serif" font-size="15" text-anchor="middle" fill="#1a1a1a" font-weight="normal" font-style="normal" >0.2</text>
<line x1="396.54" y1="1098.60" x2="396.54" y2="1103.60" stroke="#2a2a2a" stroke-width="1.1" />
<text x="396.54" y="1120.40" font-family="'Liberation Sans', sans-serif" font-size="15" text-anchor="middle" fill="#1a1a1a" font-weight="normal" font-style="normal" >0.4</text>
<line x1="438.26" y1="1098.60" x2="438.26" y2="1103.60" stroke="#2a2a2a" stroke-width="1.1" />
<text x="438.26" y="1120.40" font-family="'Liberation Sans', sans-serif" font-size="15" text-anchor="middle" fill="#1a1a1a" font-weight="normal" font-style="normal" >0.6</text>
<line x1="479.98" y1="1098.60" x2="479.98" y2="1103.60" stroke="#2a2a2a" stroke-width="1.1" />
<text x="479.98" y="1120.40" font-family="'Liberation Sans', sans-serif" font-size="15" text-anchor="middle" fill="#1a1a1a" font-weight="normal" font-style="normal" >0.8</text>
<line x1="521.70" y1="1098.60" x2="521.70" y2="1103.60" stroke="#2a2a2a" stroke-width="1.1" />
<text x="521.70" y="1120.40" font-family="'Liberation Sans', sans-serif" font-size="15" text-anchor="middle" fill="#1a1a1a" font-weight="normal" font-style="normal" >1.0</text>
<text x="384.00" y="1137.00" font-family="'Liberation Sans', sans-serif" font-size="14" text-anchor="start" fill="#1a1a1a" font-weight="normal" font-style="normal" >Scaled</text>
<text x="432.00" y="1137.00" font-family="'Liberation Sans', sans-serif" font-size="14" font-style="italic" fill="#1a1a1a">V</text>
<text x="442.40" y="1141.00" font-family="'Liberation Sans', sans-serif" font-size="10.5" fill="#555">3</text>
<path d="M90.37,1026.93 L96.41,1026.93 L102.12,1034.32 L108.84,1030.96 L114.55,1030.96 L121.60,1033.65 L127.98,1044.39 L134.69,1037.68 L140.74,1038.68 L147.45,1024.24 L154.17,1023.57 L160.21,1019.21 L166.93,997.38 L172.64,1020.21 L178.68,1012.49 L185.06,1002.42 L191.11,1002.42 L197.82,1004.10 L204.54,995.70 L210.58,985.63 L217.30,983.95 L223.34,984.62 L228.72,957.76 L234.76,957.09 L241.48,962.12 L248.19,951.04 L254.24,950.37 L260.62,950.37" fill="none" stroke="#e6222d" stroke-width="2.2" stroke-linejoin="round" stroke-linecap="round"/>
<path d="M78.62,1041.03 L84.33,1057.15 L90.37,1043.72 L96.41,1037.00 L102.12,1027.60 L108.84,1021.89 L114.55,1029.28 L121.60,1041.03 L127.98,1036.00 L134.69,1024.24 L140.74,1031.63 L147.45,1006.78 L154.17,999.40 L160.21,1002.42 L166.93,997.38 L172.64,1022.57 L178.68,1009.13 L185.06,985.63 L191.11,981.60 L197.82,988.99 L204.54,995.70 L210.58,977.23 L217.30,971.19 L223.34,967.16 L228.72,936.27 L234.76,943.65 L241.48,943.65 L248.19,937.94 L254.24,937.94 L260.62,937.94" fill="none" stroke="#f49c32" stroke-width="2.2" stroke-linejoin="round" stroke-linecap="round"/>
<path d="M52.42,1016.86 L58.47,994.02 L65.18,977.90 L71.90,992.34 L78.62,991.34 L84.33,977.23 L90.37,973.20 L96.41,970.52 L102.12,963.80 L108.84,963.13 L114.55,963.80 L121.60,960.44 L127.98,948.69 L134.69,932.57 L140.74,935.26 L147.45,931.90 L154.17,919.14 L160.21,924.18 L166.93,924.51 L172.64,928.54 L178.68,924.18 L185.06,919.14 L191.11,925.86 L197.82,924.18 L204.54,926.19 L210.58,928.54 L217.30,921.83 L223.34,917.46 L228.72,920.15 L234.76,930.22 L241.48,940.97 L248.19,939.62 L254.24,936.27 L260.62,929.55" fill="none" stroke="#fbd31a" stroke-width="2.2" stroke-linejoin="round" stroke-linecap="round"/>
<path d="M52.42,956.41 L58.47,953.06 L65.18,948.69 L71.90,949.70 L78.62,950.37 L84.33,941.97 L90.37,935.26 L96.41,934.59 L102.12,934.25 L108.84,932.57 L114.55,928.54 L121.60,923.51 L127.98,915.11 L134.69,906.72 L140.74,909.40 L147.45,913.43 L154.17,906.04 L160.21,906.72 L166.93,904.03 L172.64,905.04 L178.68,905.04 L185.06,906.04 L191.11,911.75 L197.82,912.76 L204.54,910.75 L210.58,913.43 L217.30,916.79 L223.34,918.47 L228.72,915.11 L234.76,922.83 L241.48,930.89 L248.19,923.51 L254.24,915.11 L260.62,913.43" fill="none" stroke="#52aa54" stroke-width="2.2" stroke-linejoin="round" stroke-linecap="round"/>
<path d="M52.42,929.21 L58.47,929.21 L65.18,928.54 L71.90,928.88 L78.62,929.55 L84.33,928.88 L90.37,928.54 L96.41,928.21 L102.12,931.23 L108.84,947.01 L114.55,943.65 L121.60,938.62 L127.98,940.30 L134.69,939.62 L140.74,940.30 L147.45,934.59 L154.17,933.58 L160.21,932.24 L166.93,930.89 L172.64,935.26 L178.68,934.25 L185.06,936.94 L191.11,941.97 L197.82,939.29 L204.54,935.26 L210.58,936.94 L217.30,931.90 L223.34,932.91 L228.72,926.86 L234.76,933.58 L241.48,941.30 L248.19,934.59 L254.24,932.57 L260.62,941.97" fill="none" stroke="#44b7d5" stroke-width="2.2" stroke-linejoin="round" stroke-linecap="round"/>
<path d="M52.42,926.86 L58.47,926.86 L65.18,926.53 L71.90,927.54 L78.62,928.88 L84.33,926.86 L90.37,928.54 L96.41,928.21 L102.12,931.90 L108.84,956.41 L114.55,956.41 L121.60,950.37 L127.98,959.77 L134.69,967.16 L140.74,971.52 L147.45,959.77 L154.17,965.48 L160.21,961.45 L166.93,957.76 L172.64,964.47 L178.68,961.11 L185.06,966.49 L191.11,972.87 L197.82,967.16 L204.54,957.76 L210.58,960.44 L217.30,942.98 L223.34,941.30 L228.72,944.66 L234.76,954.73 L241.48,961.11 L248.19,953.73 L254.24,953.06 L260.62,971.52" fill="none" stroke="#3353a4" stroke-width="2.2" stroke-linejoin="round" stroke-linecap="round"/>
<path d="M369.51,1057.68 L375.89,1053.65 L382.27,1042.57 L388.65,1035.18 L395.03,1034.17 L401.41,1031.82 L407.45,1031.82 L414.17,1027.45 L420.21,1009.99 L426.60,1007.31 L432.98,998.91 L439.02,993.20 L445.40,974.73 L451.78,971.38 L457.82,968.02 L464.20,965.33 L470.58,962.65" fill="none" stroke="#e6222d" stroke-width="2.2" stroke-linejoin="round" stroke-linecap="round"/>
<path d="M332.24,1010.66 L338.62,1034.17 L344.66,1020.74 L351.04,1020.07 L357.09,1010.66 L363.13,1007.31 L369.51,1007.31 L375.89,1013.02 L382.27,1005.63 L388.65,1002.27 L395.03,988.84 L401.41,990.52 L407.45,978.76 L414.17,974.73 L420.21,977.09 L426.60,964.66 L432.98,965.33 L439.02,958.62 L445.40,943.51 L451.78,958.62 L457.82,967.01 L464.20,972.05 L470.58,972.05 L476.96,961.30 L483.34,962.98 L489.72,956.94 L495.77,967.01 L502.15,971.04 L508.53,969.70 L514.57,976.41" fill="none" stroke="#f49c32" stroke-width="2.2" stroke-linejoin="round" stroke-linecap="round"/>
<path d="M313.10,1035.85 L319.48,1020.07 L325.86,1016.37 L332.24,987.83 L338.62,988.17 L344.66,979.77 L351.04,983.13 L357.09,982.79 L363.13,981.11 L369.51,989.51 L375.89,983.13 L382.27,969.70 L388.65,974.73 L395.03,962.65 L401.41,938.47 L407.45,942.50 L414.17,936.79 L420.21,941.16 L426.60,941.16 L432.98,945.86 L439.02,945.18 L445.40,942.50 L451.78,953.58 L457.82,955.93 L464.20,955.93 L470.58,953.58 L476.96,951.90 L483.34,962.65 L489.72,950.89 L495.77,952.91 L502.15,968.69 L508.53,967.68 L514.57,980.44 L520.62,974.40" fill="none" stroke="#fbd31a" stroke-width="2.2" stroke-linejoin="round" stroke-linecap="round"/>
<path d="M313.10,1017.38 L319.48,1008.99 L325.86,1009.99 L332.24,999.92 L338.62,1005.63 L344.66,994.55 L351.04,990.52 L357.09,992.20 L363.13,991.19 L369.51,994.55 L375.89,991.52 L382.27,971.38 L388.65,977.09 L395.03,968.69 L401.41,955.93 L407.45,955.93 L414.17,957.94 L420.21,964.33 L426.60,960.30 L432.98,963.65 L439.02,959.62 L445.40,957.61 L451.78,961.97 L457.82,960.97 L464.20,963.65 L470.58,961.97 L476.96,964.66 L483.34,975.41 L489.72,965.33 L495.77,967.01 L502.15,982.12 L508.53,981.11 L514.57,979.77 L520.62,971.04" fill="none" stroke="#52aa54" stroke-width="2.2" stroke-linejoin="round" stroke-linecap="round"/>
<path d="M313.10,972.05 L319.48,972.72 L325.86,973.73 L332.24,973.73 L338.62,974.73 L344.66,973.06 L351.04,971.04 L357.09,972.72 L363.13,973.06 L369.51,992.20 L375.89,992.20 L382.27,988.84 L388.65,994.55 L395.03,1000.59 L401.41,999.92 L407.45,993.20 L414.17,1002.27 L420.21,1003.28 L426.60,999.92 L432.98,997.90 L439.02,997.23 L445.40,1000.59 L451.78,1004.62 L457.82,1007.98 L464.20,1002.27 L470.58,1004.62 L476.96,1000.59 L483.34,1007.98 L489.72,1005.63 L495.77,997.23 L502.15,997.23 L508.53,988.17 L514.57,975.41 L520.62,978.76" fill="none" stroke="#44b7d5" stroke-width="2.2" stroke-linejoin="round" stroke-linecap="round"/>
<path d="M313.10,966.00 L319.48,966.00 L325.86,966.34 L332.24,966.34 L338.62,965.33 L344.66,964.33 L351.04,963.65 L357.09,965.33 L363.13,967.01 L369.51,989.85 L375.89,990.52 L382.27,994.55 L388.65,1000.59 L395.03,1019.40 L401.41,1019.40 L407.45,1012.34 L414.17,1027.45 L420.21,1020.74 L426.60,1025.78 L432.98,1020.07 L439.02,1019.06 L445.40,1029.13 L451.78,1034.17 L457.82,1038.20 L464.20,1020.07 L470.58,1026.78 L476.96,1017.38 L483.34,1022.42 L489.72,1018.39 L495.77,1002.27 L502.15,995.55 L508.53,975.41 L514.57,949.55" fill="none" stroke="#3353a4" stroke-width="2.2" stroke-linejoin="round" stroke-linecap="round"/>
<rect x="537.5" y="902.7" width="102" height="131.5" fill="none" stroke="#8a8a8a" stroke-width="1"/>
<line x1="546.90" y1="932.30" x2="560.60" y2="932.30" stroke="#3353a4" stroke-width="3.0" stroke-linecap="round"/>
<text x="586.40" y="936.90" font-family="'Liberation Sans', sans-serif" font-size="14.4" text-anchor="end" fill="#1a1a1a" font-weight="normal" font-style="normal" >0</text>
<line x1="546.90" y1="948.80" x2="560.60" y2="948.80" stroke="#44b7d5" stroke-width="3.0" stroke-linecap="round"/>
<text x="586.40" y="953.40" font-family="'Liberation Sans', sans-serif" font-size="14.4" text-anchor="end" fill="#1a1a1a" font-weight="normal" font-style="normal" >.07</text>
<line x1="546.90" y1="965.40" x2="560.60" y2="965.40" stroke="#52aa54" stroke-width="3.0" stroke-linecap="round"/>
<text x="586.40" y="970.00" font-family="'Liberation Sans', sans-serif" font-size="14.4" text-anchor="end" fill="#1a1a1a" font-weight="normal" font-style="normal" >.14</text>
<line x1="546.90" y1="981.80" x2="560.60" y2="981.80" stroke="#fbd31a" stroke-width="3.0" stroke-linecap="round"/>
<text x="586.40" y="986.40" font-family="'Liberation Sans', sans-serif" font-size="14.4" text-anchor="end" fill="#1a1a1a" font-weight="normal" font-style="normal" >.21</text>
<line x1="546.90" y1="998.40" x2="560.60" y2="998.40" stroke="#f49c32" stroke-width="3.0" stroke-linecap="round"/>
<text x="586.40" y="1003.00" font-family="'Liberation Sans', sans-serif" font-size="14.4" text-anchor="end" fill="#1a1a1a" font-weight="normal" font-style="normal" >.28</text>
<line x1="546.90" y1="1014.70" x2="560.60" y2="1014.70" stroke="#e6222d" stroke-width="3.0" stroke-linecap="round"/>
<text x="586.40" y="1019.30" font-family="'Liberation Sans', sans-serif" font-size="14.4" text-anchor="end" fill="#1a1a1a" font-weight="normal" font-style="normal" >.35</text>
<g transform="translate(620.10,0) rotate(90)"><text x="970.3" y="0" font-family="'Liberation Sans', sans-serif" font-size="14.2" font-weight="bold" text-anchor="middle" fill="#1a1a1a">Bidding variance</text></g>
<g transform="translate(600.50,0) rotate(90)"><text x="928.6" y="-2.6" font-family="'Liberation Sans', sans-serif" font-size="14" fill="#1a1a1a">(</text><text x="936.0" y="-5.4" font-family="'Liberation Serif', serif" font-size="16.5" font-style="italic" fill="#1a1a1a">σ</text><text x="945.5" y="0" font-family="'Liberation Sans', sans-serif" font-size="13.5" fill="#1a1a1a">Scaled <tspan font-style="italic">V</tspan><tspan font-size="9" dx="-0.5" dy="0.5">3</tspan></text><text x="1010.0" y="-2.6" font-family="'Liberation Sans', sans-serif" font-size="14" fill="#1a1a1a">)</text></g>
</svg>
</body></html>
